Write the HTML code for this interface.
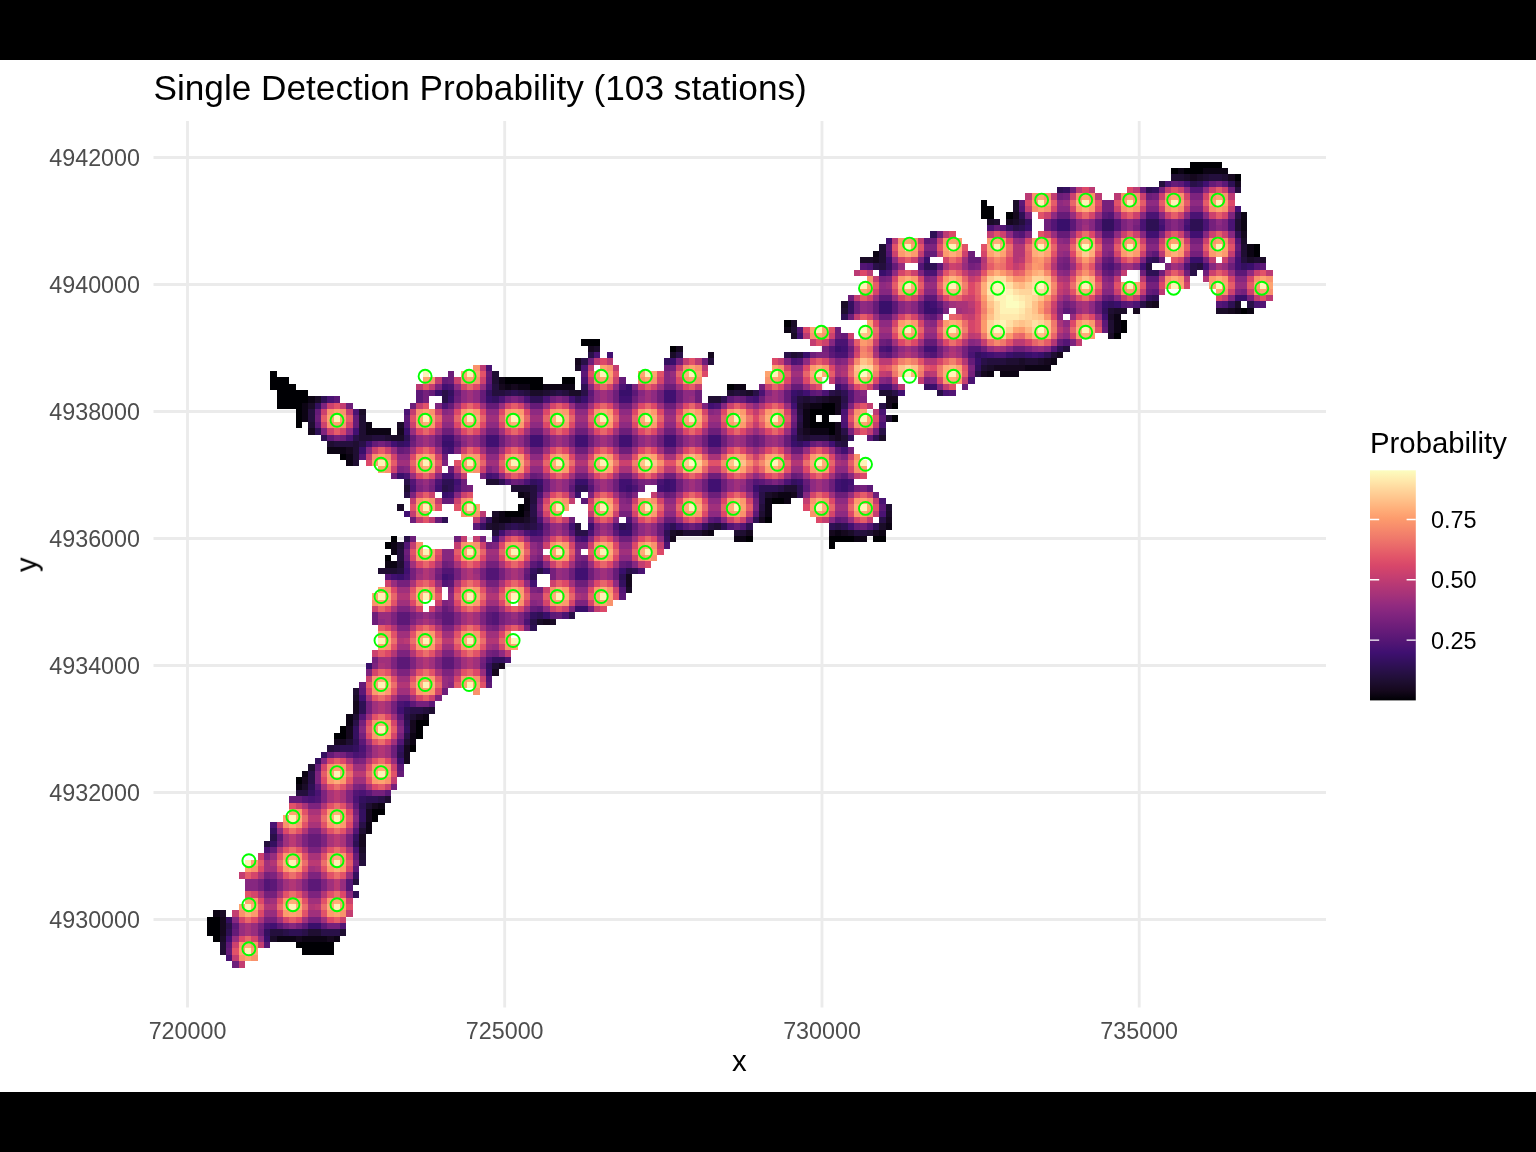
<!DOCTYPE html>
<html><head><meta charset="utf-8"><title>Single Detection Probability</title>
<style>
html,body{margin:0;padding:0;background:#fff;}
body{width:1536px;height:1152px;overflow:hidden;position:relative;font-family:"Liberation Sans",sans-serif;}
.bar{position:absolute;left:0;width:1536px;height:60px;background:#000;}
svg{position:absolute;left:0;top:0;}
text{font-family:"Liberation Sans",sans-serif;}
</style></head><body>
<div class="bar" style="top:0"></div><div class="bar" style="top:1092px"></div>
<svg width="1536" height="1152" viewBox="0 0 1536 1152">
<defs><linearGradient id="lg" x1="0" y1="0" x2="0" y2="1"><stop offset="0.000" stop-color="#fcfdbf"/><stop offset="0.042" stop-color="#ffeaad"/><stop offset="0.083" stop-color="#ffd69c"/><stop offset="0.125" stop-color="#ffc38b"/><stop offset="0.167" stop-color="#ffaf7a"/><stop offset="0.208" stop-color="#fd9c6d"/><stop offset="0.250" stop-color="#f78b6c"/><stop offset="0.292" stop-color="#f07a6b"/><stop offset="0.333" stop-color="#e9686a"/><stop offset="0.375" stop-color="#e25569"/><stop offset="0.417" stop-color="#d7466a"/><stop offset="0.458" stop-color="#c73f70"/><stop offset="0.500" stop-color="#b63875"/><stop offset="0.542" stop-color="#a5327a"/><stop offset="0.583" stop-color="#932b7f"/><stop offset="0.625" stop-color="#82257f"/><stop offset="0.667" stop-color="#721f7b"/><stop offset="0.708" stop-color="#621a78"/><stop offset="0.750" stop-color="#511574"/><stop offset="0.792" stop-color="#3f1071"/><stop offset="0.833" stop-color="#33105d"/><stop offset="0.875" stop-color="#281047"/><stop offset="0.917" stop-color="#1e0e31"/><stop offset="0.958" stop-color="#15081d"/><stop offset="1.000" stop-color="#000004"/></linearGradient></defs>
<g stroke="#ebebeb" stroke-width="2.85" fill="none"><path d="M187.5 121.0V1007.5"/><path d="M504.7 121.0V1007.5"/><path d="M822.0 121.0V1007.5"/><path d="M1139.2 121.0V1007.5"/><path d="M153.5 157.5H1326.0"/><path d="M153.5 284.5H1326.0"/><path d="M153.5 411.5H1326.0"/><path d="M153.5 538.5H1326.0"/><path d="M153.5 665.5H1326.0"/><path d="M153.5 792.5H1326.0"/><path d="M153.5 919.5H1326.0"/></g>
<g transform="translate(206.875 161.700) scale(6.345)" shape-rendering="crispEdges"><path fill="#000004" d="M155 0h5v1h-5zM152 1h1v1h-1zM154 1h3v1h-3zM162 2h1v1h-1zM122 6h1v1h-1zM122 7h2v1h-2zM122 8h2v1h-2zM126 8h1v1h-1zM165 13h1v1h-1zM165 14h1v1h-1zM163 23h1v1h-1zM91 25h1v1h-1zM144 25h1v1h-1zM144 26h1v1h-1zM143 27h1v1h-1zM59 28h3v1h-3zM73 29h1v1h-1zM10 33h1v1h-1zM10 34h3v1h-3zM47 34h6v1h-6zM56 34h2v1h-2zM10 35h4v1h-4zM51 35h2v1h-2zM82 35h1v1h-1zM11 36h5v1h-5zM11 37h5v1h-5zM11 38h4v1h-4zM97 38h2v1h-2zM108 38h1v1h-1zM14 39h1v1h-1zM95 39h4v1h-4zM14 40h1v1h-1zM95 40h1v1h-1zM97 40h1v1h-1zM108 40h1v1h-1zM14 41h1v1h-1zM95 41h4v1h-4zM98 42h1v1h-1zM21 46h1v1h-1zM89 53h2v1h-2zM49 54h1v1h-1zM47 55h3v1h-3zM88 56h1v1h-1zM29 59h1v1h-1zM85 59h1v1h-1zM98 59h4v1h-4zM105 59h2v1h-2zM28 60h1v1h-1zM98 60h1v1h-1zM28 62h1v1h-1zM33 88h2v1h-2zM21 89h1v1h-1zM33 89h1v1h-1zM20 90h2v1h-2zM33 90h1v1h-1zM32 92h1v1h-1zM14 97h1v1h-1zM26 102h2v1h-2zM26 103h1v1h-1zM0 119h2v1h-2zM0 120h2v1h-2zM0 121h2v1h-2zM1 122h1v1h-1zM14 123h6v1h-6zM15 124h5v1h-5z"/><path fill="#0c0414" d="M153 1h1v1h-1zM157 1h4v1h-4zM163 8h1v1h-1zM163 9h1v1h-1zM163 10h1v1h-1zM164 13h1v1h-1zM105 14h1v1h-1zM164 14h1v1h-1zM162 23h1v1h-1zM164 23h1v1h-1zM143 24h1v1h-1zM143 25h1v1h-1zM91 26h1v1h-1zM143 26h1v1h-1zM133 31h1v1h-1zM129 32h4v1h-4zM123 33h1v1h-1zM125 33h3v1h-3zM46 34h1v1h-1zM47 35h1v1h-1zM49 35h2v1h-2zM53 35h5v1h-5zM83 35h2v1h-2zM16 37h1v1h-1zM15 38h1v1h-1zM95 38h2v1h-2zM15 39h1v1h-1zM94 39h1v1h-1zM15 40h1v1h-1zM94 40h1v1h-1zM25 41h1v1h-1zM94 41h1v1h-1zM25 42h4v1h-4zM95 42h3v1h-3zM19 45h3v1h-3zM22 46h1v1h-1zM22 47h1v1h-1zM49 52h1v1h-1zM90 52h2v1h-2zM50 53h1v1h-1zM88 53h1v1h-1zM91 53h1v1h-1zM50 54h1v1h-1zM88 54h1v1h-1zM46 55h1v1h-1zM88 55h1v1h-1zM46 56h2v1h-2zM107 57h1v1h-1zM79 58h1v1h-1zM99 58h1v1h-1zM106 58h1v1h-1zM83 59h2v1h-2zM102 59h2v1h-2zM29 60h1v1h-1zM29 61h1v1h-1zM28 63h2v1h-2zM22 87h1v1h-1zM34 87h1v1h-1zM22 88h1v1h-1zM32 90h1v1h-1zM32 91h1v1h-1zM15 96h1v1h-1zM14 98h1v1h-1zM27 101h1v1h-1zM25 104h1v1h-1zM25 105h1v1h-1zM1 118h1v1h-1zM11 122h3v1h-3zM15 122h4v1h-4zM20 122h1v1h-1z"/><path fill="#15081e" d="M155 2h1v1h-1zM161 2h1v1h-1zM162 3h1v1h-1zM127 8h1v1h-1zM126 9h1v1h-1zM163 11h1v1h-1zM105 15h1v1h-1zM149 22h1v1h-1zM146 23h1v1h-1zM161 23h1v1h-1zM60 29h1v1h-1zM74 29h1v1h-1zM79 30h1v1h-1zM134 30h1v1h-1zM58 31h1v1h-1zM132 31h1v1h-1zM124 32h5v1h-5zM122 33h1v1h-1zM46 35h1v1h-1zM48 35h1v1h-1zM98 37h2v1h-2zM107 37h2v1h-2zM94 38h1v1h-1zM99 38h1v1h-1zM107 38h1v1h-1zM99 39h1v1h-1zM99 41h1v1h-1zM16 42h1v1h-1zM30 42h1v1h-1zM94 42h1v1h-1zM99 42h1v1h-1zM99 43h1v1h-1zM22 45h1v1h-1zM50 52h1v1h-1zM89 52h1v1h-1zM92 52h1v1h-1zM50 55h1v1h-1zM45 56h1v1h-1zM48 56h2v1h-2zM87 56h1v1h-1zM107 56h1v1h-1zM74 58h1v1h-1zM78 58h1v1h-1zM85 58h1v1h-1zM98 58h1v1h-1zM100 58h1v1h-1zM105 58h1v1h-1zM73 59h1v1h-1zM66 65h1v1h-1zM66 66h1v1h-1zM53 72h1v1h-1zM46 79h1v1h-1zM45 80h1v1h-1zM23 85h1v1h-1zM23 86h1v1h-1zM33 87h1v1h-1zM32 88h1v1h-1zM22 89h1v1h-1zM32 89h1v1h-1zM22 90h1v1h-1zM20 91h2v1h-2zM31 92h1v1h-1zM31 93h1v1h-1zM31 94h1v1h-1zM15 97h1v1h-1zM26 101h1v1h-1zM25 102h1v1h-1zM25 103h1v1h-1zM24 106h1v1h-1zM24 107h1v1h-1zM2 119h1v1h-1zM2 120h1v1h-1zM2 121h1v1h-1zM14 122h1v1h-1zM19 122h1v1h-1z"/><path fill="#1a0c28" d="M154 2h1v1h-1zM156 2h1v1h-1zM127 6h1v1h-1zM127 7h1v1h-1zM123 9h1v1h-1zM127 9h1v1h-1zM163 12h1v1h-1zM103 15h2v1h-2zM164 15h1v1h-1zM166 15h1v1h-1zM100 22h1v1h-1zM148 22h1v1h-1zM162 22h1v1h-1zM143 23h2v1h-2zM159 23h2v1h-2zM142 24h1v1h-1zM92 25h1v1h-1zM92 27h1v1h-1zM142 27h1v1h-1zM61 29h1v1h-1zM73 30h1v1h-1zM128 31h1v1h-1zM131 31h1v1h-1zM58 32h1v1h-1zM123 32h1v1h-1zM51 36h2v1h-2zM57 36h2v1h-2zM85 36h1v1h-1zM17 37h1v1h-1zM97 37h1v1h-1zM16 38h1v1h-1zM24 39h1v1h-1zM30 41h1v1h-1zM29 43h2v1h-2zM98 43h1v1h-1zM106 43h1v1h-1zM88 52h1v1h-1zM30 54h1v1h-1zM45 55h1v1h-1zM107 55h1v1h-1zM50 56h1v1h-1zM45 57h1v1h-1zM106 57h1v1h-1zM73 58h1v1h-1zM101 58h1v1h-1zM66 67h1v1h-1zM52 72h1v1h-1zM54 72h1v1h-1zM23 84h1v1h-1zM15 98h1v1h-1zM24 108h1v1h-1zM2 118h1v1h-1zM2 122h1v1h-1zM10 122h1v1h-1z"/><path fill="#1f0e32" d="M152 2h2v1h-2zM157 2h1v1h-1zM160 2h1v1h-1zM124 9h1v1h-1zM162 9h1v1h-1zM162 10h1v1h-1zM106 13h1v1h-1zM163 13h1v1h-1zM106 14h1v1h-1zM163 14h1v1h-1zM106 15h1v1h-1zM165 15h1v1h-1zM100 23h1v1h-1zM142 23h1v1h-1zM142 25h1v1h-1zM92 26h1v1h-1zM142 26h1v1h-1zM92 30h1v1h-1zM133 30h1v1h-1zM126 31h2v1h-2zM129 31h2v1h-2zM122 32h1v1h-1zM45 33h1v1h-1zM45 34h1v1h-1zM53 36h1v1h-1zM82 36h1v1h-1zM84 36h1v1h-1zM106 36h2v1h-2zM79 37h2v1h-2zM94 37h1v1h-1zM96 37h1v1h-1zM93 38h1v1h-1zM24 40h1v1h-1zM107 40h1v1h-1zM16 41h1v1h-1zM24 41h1v1h-1zM24 42h1v1h-1zM93 42h1v1h-1zM24 43h2v1h-2zM28 43h1v1h-1zM94 43h1v1h-1zM100 43h1v1h-1zM19 44h1v1h-1zM23 44h1v1h-1zM23 45h1v1h-1zM23 46h1v1h-1zM23 47h1v1h-1zM44 50h2v1h-2zM31 51h1v1h-1zM48 51h3v1h-3zM91 51h2v1h-2zM107 54h1v1h-1zM87 55h1v1h-1zM44 57h1v1h-1zM46 57h1v1h-1zM80 57h1v1h-1zM75 58h3v1h-3zM83 58h2v1h-2zM104 58h1v1h-1zM30 60h1v1h-1zM30 63h1v1h-1zM27 64h3v1h-3zM45 79h1v1h-1zM23 83h1v1h-1zM35 86h1v1h-1zM23 87h1v1h-1zM32 87h1v1h-1zM22 91h1v1h-1zM31 91h1v1h-1zM16 95h1v1h-1zM28 100h1v1h-1zM25 101h1v1h-1zM24 105h1v1h-1zM24 109h1v1h-1zM16 121h2v1h-2zM21 121h1v1h-1zM2 123h1v1h-1zM2 124h1v1h-1z"/><path fill="#240f3d" d="M158 2h2v1h-2zM150 3h1v1h-1zM162 4h1v1h-1zM128 9h1v1h-1zM163 15h1v1h-1zM106 16h1v1h-1zM148 16h1v1h-1zM156 16h1v1h-1zM135 29h1v1h-1zM93 30h1v1h-1zM79 31h1v1h-1zM123 31h3v1h-3zM45 35h1v1h-1zM45 36h2v1h-2zM50 36h1v1h-1zM54 36h1v1h-1zM56 36h1v1h-1zM83 36h1v1h-1zM99 36h1v1h-1zM93 37h1v1h-1zM95 37h1v1h-1zM16 39h1v1h-1zM93 39h1v1h-1zM16 40h1v1h-1zM93 41h1v1h-1zM26 43h2v1h-2zM93 43h1v1h-1zM95 43h3v1h-3zM20 44h3v1h-3zM100 44h1v1h-1zM51 51h1v1h-1zM51 52h1v1h-1zM51 53h1v1h-1zM87 54h1v1h-1zM51 56h1v1h-1zM50 57h1v1h-1zM58 57h1v1h-1zM79 57h1v1h-1zM45 58h1v1h-1zM102 58h2v1h-2zM30 61h1v1h-1zM30 62h1v1h-1zM30 64h1v1h-1zM34 86h1v1h-1zM19 92h1v1h-1zM14 99h2v1h-2zM9 107h1v1h-1zM24 110h1v1h-1zM23 113h1v1h-1zM10 121h2v1h-2z"/><path fill="#291048" d="M155 3h1v1h-1zM162 8h1v1h-1zM127 10h1v1h-1zM105 16h1v1h-1zM155 16h1v1h-1zM155 17h1v1h-1zM147 22h1v1h-1zM164 22h1v1h-1zM60 30h1v1h-1zM74 30h1v1h-1zM91 30h1v1h-1zM59 31h1v1h-1zM122 31h1v1h-1zM121 33h1v1h-1zM37 36h1v1h-1zM47 36h1v1h-1zM49 36h1v1h-1zM55 36h1v1h-1zM59 36h1v1h-1zM86 36h1v1h-1zM98 36h1v1h-1zM108 36h1v1h-1zM115 36h1v1h-1zM37 37h1v1h-1zM100 37h1v1h-1zM106 38h1v1h-1zM93 40h1v1h-1zM100 42h1v1h-1zM106 42h1v1h-1zM23 43h1v1h-1zM24 44h1v1h-1zM99 44h1v1h-1zM31 50h1v1h-1zM37 51h1v1h-1zM90 51h1v1h-1zM31 52h1v1h-1zM87 52h1v1h-1zM87 53h1v1h-1zM51 54h1v1h-1zM51 55h1v1h-1zM106 56h1v1h-1zM47 57h1v1h-1zM49 57h1v1h-1zM51 57h1v1h-1zM99 57h1v1h-1zM58 58h2v1h-2zM31 59h1v1h-1zM52 64h1v1h-1zM66 64h1v1h-1zM57 71h1v1h-1zM51 72h1v1h-1zM32 86h2v1h-2zM31 87h1v1h-1zM23 88h1v1h-1zM31 90h1v1h-1zM20 92h1v1h-1zM16 96h1v1h-1zM16 97h1v1h-1zM27 100h1v1h-1zM24 104h1v1h-1zM10 106h1v1h-1zM3 120h1v1h-1zM12 121h1v1h-1zM15 121h1v1h-1zM18 121h3v1h-3z"/><path fill="#2e1054" d="M156 3h1v1h-1zM161 3h1v1h-1zM134 4h1v1h-1zM148 4h1v1h-1zM128 8h1v1h-1zM148 9h2v1h-2zM155 9h2v1h-2zM128 10h1v1h-1zM148 10h2v1h-2zM155 10h2v1h-2zM114 11h1v1h-1zM162 11h1v1h-1zM149 15h1v1h-1zM113 16h2v1h-2zM148 17h2v1h-2zM149 21h1v1h-1zM161 22h1v1h-1zM100 24h1v1h-1zM134 29h1v1h-1zM132 30h1v1h-1zM59 35h1v1h-1zM48 36h1v1h-1zM100 36h1v1h-1zM18 37h1v1h-1zM51 37h2v1h-2zM58 37h1v1h-1zM81 37h1v1h-1zM100 38h1v1h-1zM17 42h1v1h-1zM18 43h1v1h-1zM31 43h1v1h-1zM105 43h1v1h-1zM37 50h2v1h-2zM46 50h1v1h-1zM38 51h1v1h-1zM58 51h2v1h-2zM87 51h3v1h-3zM93 51h1v1h-1zM93 52h1v1h-1zM37 56h1v1h-1zM44 56h1v1h-1zM86 56h1v1h-1zM48 57h1v1h-1zM65 57h1v1h-1zM73 57h1v1h-1zM81 57h1v1h-1zM85 57h1v1h-1zM98 57h1v1h-1zM100 57h1v1h-1zM105 57h1v1h-1zM72 58h1v1h-1zM67 64h1v1h-1zM51 65h1v1h-1zM65 65h1v1h-1zM52 71h1v1h-1zM51 73h1v1h-1zM24 85h1v1h-1zM24 86h1v1h-1zM31 86h1v1h-1zM31 88h1v1h-1zM23 91h1v1h-1zM21 92h2v1h-2zM30 93h1v1h-1zM16 98h1v1h-1zM25 100h2v1h-2zM24 101h1v1h-1zM23 107h1v1h-1zM23 115h1v1h-1zM3 121h1v1h-1zM13 121h2v1h-2z"/><path fill="#34105f" d="M135 4h1v1h-1zM149 4h1v1h-1zM129 9h1v1h-1zM141 9h2v1h-2zM126 10h1v1h-1zM141 10h2v1h-2zM148 15h1v1h-1zM107 16h1v1h-1zM163 16h1v1h-1zM148 21h1v1h-1zM101 22h1v1h-1zM142 22h1v1h-1zM101 23h1v1h-1zM141 23h1v1h-1zM121 30h1v1h-1zM127 30h2v1h-2zM72 31h1v1h-1zM121 32h1v1h-1zM113 35h1v1h-1zM38 36h1v1h-1zM44 36h1v1h-1zM93 36h1v1h-1zM45 37h1v1h-1zM92 37h1v1h-1zM17 38h1v1h-1zM92 43h1v1h-1zM101 43h1v1h-1zM30 44h1v1h-1zM93 44h1v1h-1zM51 50h1v1h-1zM92 50h1v1h-1zM52 51h1v1h-1zM43 57h1v1h-1zM52 57h1v1h-1zM66 57h1v1h-1zM78 57h1v1h-1zM72 59h1v1h-1zM51 64h1v1h-1zM65 66h1v1h-1zM51 71h1v1h-1zM45 78h2v1h-2zM44 79h1v1h-1zM23 89h1v1h-1zM31 89h1v1h-1zM23 90h1v1h-1zM23 92h1v1h-1zM30 92h1v1h-1zM18 93h1v1h-1zM17 94h1v1h-1zM16 99h1v1h-1zM24 100h1v1h-1zM24 102h1v1h-1zM24 103h1v1h-1zM10 105h1v1h-1zM23 106h1v1h-1zM10 107h1v1h-1zM23 112h1v1h-1zM3 119h1v1h-1zM9 121h1v1h-1z"/><path fill="#390f6b" d="M134 9h2v1h-2zM129 10h1v1h-1zM134 10h2v1h-2zM107 15h1v1h-1zM113 15h1v1h-1zM155 15h2v1h-2zM164 16h1v1h-1zM106 17h1v1h-1zM162 21h2v1h-2zM106 22h2v1h-2zM113 22h1v1h-1zM141 22h1v1h-1zM143 22h1v1h-1zM106 23h2v1h-2zM113 23h2v1h-2zM99 29h1v1h-1zM94 30h1v1h-1zM122 30h1v1h-1zM126 30h1v1h-1zM129 30h1v1h-1zM131 30h1v1h-1zM73 31h1v1h-1zM121 31h1v1h-1zM66 35h1v1h-1zM99 35h1v1h-1zM114 35h1v1h-1zM36 36h1v1h-1zM65 36h2v1h-2zM92 36h1v1h-1zM38 37h1v1h-1zM44 37h1v1h-1zM59 37h1v1h-1zM31 42h1v1h-1zM31 44h1v1h-1zM37 44h2v1h-2zM92 44h1v1h-1zM24 45h1v1h-1zM30 49h1v1h-1zM52 50h1v1h-1zM58 50h2v1h-2zM72 50h1v1h-1zM93 50h1v1h-1zM100 50h1v1h-1zM66 51h1v1h-1zM72 51h1v1h-1zM86 51h1v1h-1zM100 51h1v1h-1zM37 52h1v1h-1zM58 52h1v1h-1zM60 57h1v1h-1zM72 57h1v1h-1zM51 58h1v1h-1zM65 58h2v1h-2zM53 64h1v1h-1zM65 64h1v1h-1zM30 65h1v1h-1zM58 70h2v1h-2zM53 71h1v1h-1zM25 79h1v1h-1zM44 80h1v1h-1zM30 94h1v1h-1zM16 120h2v1h-2zM9 122h1v1h-1z"/><path fill="#411071" d="M154 3h1v1h-1zM157 3h1v1h-1zM162 7h1v1h-1zM150 10h1v1h-1zM154 10h1v1h-1zM148 11h2v1h-2zM155 11h2v1h-2zM107 12h1v1h-1zM162 15h1v1h-1zM147 16h1v1h-1zM157 16h1v1h-1zM162 16h1v1h-1zM114 22h1v1h-1zM141 24h1v1h-1zM93 27h1v1h-1zM100 29h1v1h-1zM107 29h1v1h-1zM113 29h2v1h-2zM63 30h1v1h-1zM123 30h1v1h-1zM130 30h1v1h-1zM37 35h1v1h-1zM106 35h2v1h-2zM72 36h2v1h-2zM94 36h1v1h-1zM109 36h1v1h-1zM57 37h1v1h-1zM65 37h2v1h-2zM72 37h2v1h-2zM86 37h1v1h-1zM79 38h1v1h-1zM92 38h1v1h-1zM23 42h1v1h-1zM37 43h2v1h-2zM44 43h2v1h-2zM51 43h2v1h-2zM58 43h2v1h-2zM65 43h2v1h-2zM72 43h2v1h-2zM79 43h2v1h-2zM25 44h1v1h-1zM29 44h1v1h-1zM44 44h2v1h-2zM51 44h2v1h-2zM58 44h2v1h-2zM65 44h2v1h-2zM72 44h2v1h-2zM79 44h2v1h-2zM94 44h1v1h-1zM98 44h1v1h-1zM38 45h1v1h-1zM100 45h1v1h-1zM37 49h2v1h-2zM44 49h1v1h-1zM39 50h1v1h-1zM65 50h2v1h-2zM73 50h1v1h-1zM79 50h2v1h-2zM99 50h1v1h-1zM101 50h1v1h-1zM36 51h1v1h-1zM65 51h1v1h-1zM71 51h1v1h-1zM73 51h1v1h-1zM79 51h2v1h-2zM99 51h1v1h-1zM38 52h1v1h-1zM31 55h1v1h-1zM57 57h1v1h-1zM74 57h1v1h-1zM101 57h1v1h-1zM46 58h1v1h-1zM52 58h1v1h-1zM45 59h1v1h-1zM59 59h1v1h-1zM31 64h1v1h-1zM58 64h2v1h-2zM29 65h1v1h-1zM37 65h1v1h-1zM58 65h2v1h-2zM51 66h1v1h-1zM24 84h1v1h-1zM31 85h1v1h-1zM30 86h1v1h-1zM10 120h1v1h-1zM3 122h1v1h-1z"/><path fill="#4a1373" d="M151 3h1v1h-1zM148 8h2v1h-2zM155 8h2v1h-2zM147 9h1v1h-1zM150 9h1v1h-1zM154 9h1v1h-1zM157 9h1v1h-1zM161 9h1v1h-1zM123 10h1v1h-1zM147 10h1v1h-1zM157 10h1v1h-1zM161 10h1v1h-1zM104 16h1v1h-1zM142 16h1v1h-1zM154 16h1v1h-1zM107 17h1v1h-1zM113 17h2v1h-2zM146 22h1v1h-1zM160 22h1v1h-1zM165 22h1v1h-1zM115 23h1v1h-1zM99 28h2v1h-2zM106 29h1v1h-1zM61 30h1v1h-1zM99 30h2v1h-2zM120 30h1v1h-1zM124 30h2v1h-2zM92 31h1v1h-1zM44 32h1v1h-1zM59 32h1v1h-1zM59 34h1v1h-1zM120 34h1v1h-1zM38 35h1v1h-1zM44 35h1v1h-1zM65 35h1v1h-1zM87 36h1v1h-1zM97 36h1v1h-1zM116 36h1v1h-1zM19 37h1v1h-1zM46 37h1v1h-1zM50 37h1v1h-1zM53 37h1v1h-1zM85 37h1v1h-1zM37 38h1v1h-1zM80 38h1v1h-1zM23 39h1v1h-1zM31 39h1v1h-1zM100 39h1v1h-1zM106 39h1v1h-1zM100 41h1v1h-1zM106 41h1v1h-1zM92 42h1v1h-1zM22 43h1v1h-1zM37 45h1v1h-1zM31 49h1v1h-1zM45 49h1v1h-1zM36 50h1v1h-1zM50 50h1v1h-1zM71 50h1v1h-1zM91 50h1v1h-1zM32 51h1v1h-1zM39 51h1v1h-1zM67 51h1v1h-1zM101 51h1v1h-1zM52 52h1v1h-1zM106 53h1v1h-1zM106 55h1v1h-1zM52 56h1v1h-1zM66 56h1v1h-1zM64 57h1v1h-1zM50 58h1v1h-1zM60 58h1v1h-1zM58 59h1v1h-1zM72 60h1v1h-1zM31 63h1v1h-1zM52 63h1v1h-1zM68 64h1v1h-1zM31 65h1v1h-1zM38 65h1v1h-1zM56 71h1v1h-1zM50 72h1v1h-1zM44 78h1v1h-1zM47 78h1v1h-1zM30 85h1v1h-1zM24 92h1v1h-1zM23 93h1v1h-1zM17 99h1v1h-1zM24 99h1v1h-1zM16 100h1v1h-1zM23 100h1v1h-1zM10 104h1v1h-1zM9 108h1v1h-1zM23 108h1v1h-1zM9 120h1v1h-1zM3 125h1v1h-1z"/><path fill="#531575" d="M155 4h2v1h-2zM128 7h1v1h-1zM142 8h1v1h-1zM133 9h1v1h-1zM143 9h1v1h-1zM125 10h1v1h-1zM133 10h1v1h-1zM143 10h1v1h-1zM128 11h1v1h-1zM141 11h2v1h-2zM162 12h1v1h-1zM107 14h1v1h-1zM162 14h1v1h-1zM103 16h1v1h-1zM112 16h1v1h-1zM141 16h1v1h-1zM165 16h1v1h-1zM144 22h1v1h-1zM159 22h1v1h-1zM166 22h1v1h-1zM93 26h1v1h-1zM135 28h1v1h-1zM98 29h1v1h-1zM120 29h2v1h-2zM133 29h1v1h-1zM114 30h1v1h-1zM93 31h1v1h-1zM100 35h1v1h-1zM101 36h1v1h-1zM117 36h1v1h-1zM101 37h1v1h-1zM100 40h1v1h-1zM31 41h1v1h-1zM24 46h1v1h-1zM32 50h1v1h-1zM47 50h1v1h-1zM86 50h1v1h-1zM60 51h1v1h-1zM86 52h1v1h-1zM80 56h1v1h-1zM82 57h1v1h-1zM84 57h1v1h-1zM104 57h1v1h-1zM57 58h1v1h-1zM31 60h1v1h-1zM37 64h2v1h-2zM44 64h2v1h-2zM28 65h1v1h-1zM44 65h2v1h-2zM37 66h1v1h-1zM65 67h1v1h-1zM45 71h1v1h-1zM45 72h1v1h-1zM44 81h1v1h-1zM24 87h1v1h-1zM30 91h1v1h-1zM24 93h1v1h-1zM23 99h1v1h-1zM15 100h1v1h-1zM17 100h1v1h-1zM23 105h1v1h-1zM9 113h1v1h-1zM22 113h1v1h-1zM9 114h1v1h-1zM22 114h1v1h-1zM21 120h1v1h-1zM9 123h1v1h-1z"/><path fill="#5c1877" d="M153 3h1v1h-1zM160 3h1v1h-1zM128 6h1v1h-1zM141 8h1v1h-1zM136 9h1v1h-1zM140 9h1v1h-1zM136 10h1v1h-1zM140 10h1v1h-1zM127 11h1v1h-1zM113 12h1v1h-1zM107 13h1v1h-1zM149 14h1v1h-1zM142 15h1v1h-1zM115 16h1v1h-1zM166 16h1v1h-1zM142 17h1v1h-1zM162 17h2v1h-2zM148 18h2v1h-2zM149 20h1v1h-1zM106 21h2v1h-2zM113 21h2v1h-2zM142 21h1v1h-1zM108 22h1v1h-1zM112 22h1v1h-1zM115 22h1v1h-1zM145 22h1v1h-1zM108 23h1v1h-1zM112 23h1v1h-1zM135 23h1v1h-1zM114 24h1v1h-1zM141 25h1v1h-1zM98 30h1v1h-1zM107 30h1v1h-1zM113 30h1v1h-1zM59 33h1v1h-1zM44 34h1v1h-1zM33 36h1v1h-1zM60 36h1v1h-1zM67 36h1v1h-1zM95 36h1v1h-1zM20 37h1v1h-1zM33 37h1v1h-1zM82 37h1v1h-1zM31 40h1v1h-1zM106 40h1v1h-1zM17 41h1v1h-1zM19 43h1v1h-1zM104 43h1v1h-1zM39 44h1v1h-1zM99 45h1v1h-1zM100 49h1v1h-1zM67 50h1v1h-1zM87 50h1v1h-1zM57 51h1v1h-1zM94 51h1v1h-1zM104 51h1v1h-1zM66 52h1v1h-1zM59 53h1v1h-1zM106 54h1v1h-1zM86 55h1v1h-1zM79 56h1v1h-1zM99 56h1v1h-1zM42 57h1v1h-1zM75 57h1v1h-1zM77 57h1v1h-1zM64 58h1v1h-1zM51 63h1v1h-1zM59 63h1v1h-1zM66 63h1v1h-1zM50 65h1v1h-1zM38 66h1v1h-1zM65 68h1v1h-1zM52 70h1v1h-1zM30 71h2v1h-2zM37 71h2v1h-2zM44 71h1v1h-1zM50 71h1v1h-1zM54 71h1v1h-1zM30 72h2v1h-2zM37 72h2v1h-2zM44 72h1v1h-1zM30 78h2v1h-2zM37 78h2v1h-2zM30 79h2v1h-2zM37 79h2v1h-2zM44 82h1v1h-1zM24 83h1v1h-1zM32 85h1v1h-1zM35 85h1v1h-1zM30 87h1v1h-1zM24 91h1v1h-1zM22 93h1v1h-1zM30 95h1v1h-1zM17 98h1v1h-1zM25 99h1v1h-1zM28 99h1v1h-1zM23 101h1v1h-1zM11 106h1v1h-1zM23 111h1v1h-1zM10 113h1v1h-1zM16 113h2v1h-2zM10 114h1v1h-1zM16 114h2v1h-2zM4 120h1v1h-1zM11 120h1v1h-1zM15 120h1v1h-1zM18 120h1v1h-1zM3 123h1v1h-1z"/><path fill="#651b78" d="M152 3h1v1h-1zM158 3h1v1h-1zM147 4h1v1h-1zM134 8h2v1h-2zM124 10h1v1h-1zM134 11h2v1h-2zM114 12h1v1h-1zM162 13h1v1h-1zM113 14h2v1h-2zM120 15h2v1h-2zM141 15h1v1h-1zM150 15h1v1h-1zM108 16h1v1h-1zM143 16h1v1h-1zM141 17h1v1h-1zM148 20h1v1h-1zM141 21h1v1h-1zM105 22h1v1h-1zM140 22h1v1h-1zM105 23h1v1h-1zM140 23h1v1h-1zM106 24h2v1h-2zM113 24h1v1h-1zM141 26h1v1h-1zM100 27h1v1h-1zM107 28h1v1h-1zM113 28h2v1h-2zM134 28h1v1h-1zM106 30h1v1h-1zM120 31h1v1h-1zM44 33h1v1h-1zM37 34h1v1h-1zM65 34h1v1h-1zM92 35h2v1h-2zM119 35h1v1h-1zM35 36h1v1h-1zM39 36h1v1h-1zM43 36h1v1h-1zM91 36h1v1h-1zM96 36h1v1h-1zM43 37h1v1h-1zM60 37h1v1h-1zM84 37h1v1h-1zM91 37h1v1h-1zM38 38h1v1h-1zM44 38h2v1h-2zM51 38h2v1h-2zM58 38h2v1h-2zM17 39h1v1h-1zM92 39h1v1h-1zM23 40h1v1h-1zM23 41h1v1h-1zM92 41h1v1h-1zM32 43h1v1h-1zM86 43h1v1h-1zM91 43h1v1h-1zM26 44h1v1h-1zM28 44h1v1h-1zM86 44h1v1h-1zM91 44h1v1h-1zM95 44h1v1h-1zM97 44h1v1h-1zM30 45h1v1h-1zM92 45h2v1h-2zM38 48h1v1h-1zM51 49h1v1h-1zM92 49h1v1h-1zM49 50h1v1h-1zM53 50h1v1h-1zM60 50h1v1h-1zM94 50h1v1h-1zM53 51h1v1h-1zM72 52h1v1h-1zM37 53h2v1h-2zM36 56h1v1h-1zM72 56h2v1h-2zM100 56h1v1h-1zM53 57h1v1h-1zM67 57h1v1h-1zM71 57h1v1h-1zM83 57h1v1h-1zM102 57h1v1h-1zM71 58h1v1h-1zM51 59h2v1h-2zM31 62h1v1h-1zM58 63h1v1h-1zM65 63h1v1h-1zM50 64h1v1h-1zM64 64h1v1h-1zM64 65h1v1h-1zM37 70h1v1h-1zM51 70h1v1h-1zM55 71h1v1h-1zM24 82h1v1h-1zM19 93h1v1h-1zM17 95h1v1h-1zM30 96h1v1h-1zM13 100h2v1h-2zM16 106h2v1h-2zM16 107h2v1h-2zM10 108h1v1h-1zM23 109h1v1h-1zM4 121h1v1h-1zM3 124h1v1h-1z"/><path fill="#6d1e7a" d="M136 4h1v1h-1zM161 4h1v1h-1zM134 5h1v1h-1zM148 5h1v1h-1zM132 9h1v1h-1zM132 10h1v1h-1zM115 11h1v1h-1zM120 14h1v1h-1zM148 14h1v1h-1zM135 16h1v1h-1zM161 16h1v1h-1zM147 17h1v1h-1zM150 17h1v1h-1zM154 17h1v1h-1zM157 17h1v1h-1zM101 21h1v1h-1zM102 22h1v1h-1zM135 22h1v1h-1zM102 23h1v1h-1zM136 23h1v1h-1zM101 24h1v1h-1zM99 26h1v1h-1zM99 27h1v1h-1zM106 28h1v1h-1zM101 29h1v1h-1zM108 29h1v1h-1zM112 29h1v1h-1zM115 29h1v1h-1zM122 29h1v1h-1zM127 29h2v1h-2zM95 30h1v1h-1zM60 31h1v1h-1zM78 31h1v1h-1zM72 32h1v1h-1zM38 33h1v1h-1zM38 34h1v1h-1zM72 35h2v1h-2zM64 36h1v1h-1zM71 36h1v1h-1zM74 36h1v1h-1zM77 36h1v1h-1zM39 37h1v1h-1zM47 37h1v1h-1zM49 37h1v1h-1zM54 37h1v1h-1zM56 37h1v1h-1zM64 37h1v1h-1zM67 37h1v1h-1zM71 37h1v1h-1zM74 37h1v1h-1zM77 37h1v1h-1zM83 37h1v1h-1zM87 37h1v1h-1zM22 38h1v1h-1zM32 38h1v1h-1zM65 38h2v1h-2zM72 38h2v1h-2zM17 40h1v1h-1zM37 42h2v1h-2zM44 42h2v1h-2zM51 42h2v1h-2zM58 42h2v1h-2zM65 42h2v1h-2zM72 42h2v1h-2zM79 42h2v1h-2zM21 43h1v1h-1zM36 43h1v1h-1zM39 43h1v1h-1zM43 43h1v1h-1zM46 43h1v1h-1zM50 43h1v1h-1zM53 43h1v1h-1zM57 43h1v1h-1zM60 43h1v1h-1zM64 43h1v1h-1zM67 43h1v1h-1zM71 43h1v1h-1zM74 43h1v1h-1zM78 43h1v1h-1zM81 43h1v1h-1zM32 44h1v1h-1zM36 44h1v1h-1zM43 44h1v1h-1zM46 44h1v1h-1zM50 44h1v1h-1zM53 44h1v1h-1zM57 44h1v1h-1zM60 44h1v1h-1zM64 44h1v1h-1zM67 44h1v1h-1zM71 44h1v1h-1zM74 44h1v1h-1zM78 44h1v1h-1zM81 44h1v1h-1zM31 45h1v1h-1zM44 45h2v1h-2zM51 45h2v1h-2zM58 45h2v1h-2zM65 45h2v1h-2zM72 45h2v1h-2zM79 45h2v1h-2zM37 46h1v1h-1zM29 49h1v1h-1zM52 49h1v1h-1zM58 49h2v1h-2zM65 49h2v1h-2zM72 49h2v1h-2zM79 49h2v1h-2zM93 49h1v1h-1zM99 49h1v1h-1zM40 50h1v1h-1zM48 50h1v1h-1zM57 50h1v1h-1zM64 50h1v1h-1zM74 50h1v1h-1zM78 50h1v1h-1zM81 50h1v1h-1zM85 50h1v1h-1zM88 50h1v1h-1zM90 50h1v1h-1zM98 50h1v1h-1zM40 51h1v1h-1zM64 51h1v1h-1zM68 51h1v1h-1zM74 51h1v1h-1zM78 51h1v1h-1zM81 51h1v1h-1zM85 51h1v1h-1zM98 51h1v1h-1zM102 51h1v1h-1zM65 52h1v1h-1zM73 52h1v1h-1zM79 52h2v1h-2zM99 52h2v1h-2zM105 52h1v1h-1zM52 53h1v1h-1zM86 53h1v1h-1zM52 55h1v1h-1zM32 56h1v1h-1zM43 56h1v1h-1zM57 56h1v1h-1zM76 57h1v1h-1zM103 57h1v1h-1zM47 58h1v1h-1zM49 58h1v1h-1zM53 58h1v1h-1zM67 58h1v1h-1zM32 59h1v1h-1zM39 59h1v1h-1zM65 59h2v1h-2zM31 61h1v1h-1zM37 63h1v1h-1zM57 64h1v1h-1zM60 64h1v1h-1zM36 65h1v1h-1zM57 65h1v1h-1zM60 65h1v1h-1zM58 66h2v1h-2zM26 71h1v1h-1zM36 71h1v1h-1zM26 72h1v1h-1zM45 77h1v1h-1zM43 79h1v1h-1zM37 83h1v1h-1zM29 92h1v1h-1zM29 93h1v1h-1zM11 107h1v1h-1zM8 121h1v1h-1zM4 126h1v1h-1z"/><path fill="#75207c" d="M159 3h1v1h-1zM150 4h1v1h-1zM135 5h1v1h-1zM149 5h1v1h-1zM141 6h2v1h-2zM141 7h2v1h-2zM129 8h1v1h-1zM151 9h1v1h-1zM153 9h1v1h-1zM158 9h1v1h-1zM146 10h1v1h-1zM151 10h1v1h-1zM153 10h1v1h-1zM158 10h1v1h-1zM148 12h2v1h-2zM155 12h2v1h-2zM155 14h2v1h-2zM135 15h1v1h-1zM157 15h1v1h-1zM120 16h1v1h-1zM134 16h1v1h-1zM106 18h1v1h-1zM148 19h2v1h-2zM163 20h1v1h-1zM147 21h1v1h-1zM164 21h1v1h-1zM97 29h1v1h-1zM119 29h1v1h-1zM115 30h1v1h-1zM119 30h1v1h-1zM74 31h1v1h-1zM73 32h1v1h-1zM120 33h1v1h-1zM99 34h1v1h-1zM113 34h1v1h-1zM87 35h1v1h-1zM108 35h1v1h-1zM34 36h1v1h-1zM34 37h1v1h-1zM92 40h1v1h-1zM101 42h1v1h-1zM105 42h1v1h-1zM20 43h1v1h-1zM85 43h1v1h-1zM87 43h1v1h-1zM27 44h1v1h-1zM85 44h1v1h-1zM87 44h1v1h-1zM96 44h1v1h-1zM101 45h1v1h-1zM43 49h1v1h-1zM68 50h1v1h-1zM70 50h1v1h-1zM35 51h1v1h-1zM41 51h1v1h-1zM103 51h1v1h-1zM86 54h1v1h-1zM65 55h2v1h-2zM60 56h1v1h-1zM43 59h1v1h-1zM44 60h1v1h-1zM58 60h2v1h-2zM52 62h1v1h-1zM59 62h1v1h-1zM38 63h1v1h-1zM44 63h2v1h-2zM32 64h1v1h-1zM36 64h1v1h-1zM39 64h1v1h-1zM43 64h1v1h-1zM46 64h1v1h-1zM54 64h1v1h-1zM32 65h1v1h-1zM39 65h1v1h-1zM43 65h1v1h-1zM46 65h1v1h-1zM54 65h1v1h-1zM30 66h2v1h-2zM44 66h2v1h-2zM52 67h1v1h-1zM38 70h1v1h-1zM44 70h2v1h-2zM60 70h1v1h-1zM32 71h1v1h-1zM46 71h1v1h-1zM46 72h1v1h-1zM45 73h1v1h-1zM50 73h1v1h-1zM44 77h1v1h-1zM26 78h1v1h-1zM43 78h1v1h-1zM30 84h2v1h-2zM25 85h1v1h-1zM29 85h1v1h-1zM33 85h2v1h-2zM25 86h1v1h-1zM29 86h1v1h-1zM24 88h1v1h-1zM30 88h1v1h-1zM24 90h1v1h-1zM30 90h1v1h-1zM25 92h1v1h-1zM21 93h1v1h-1zM23 94h1v1h-1zM24 98h1v1h-1zM29 98h1v1h-1zM26 99h2v1h-2zM23 102h1v1h-1zM23 104h1v1h-1zM22 106h1v1h-1zM22 107h1v1h-1zM23 110h1v1h-1zM9 112h1v1h-1zM8 113h1v1h-1zM8 114h1v1h-1zM9 115h2v1h-2zM9 119h2v1h-2zM16 119h2v1h-2zM8 120h1v1h-1zM12 120h1v1h-1zM14 120h1v1h-1zM19 120h2v1h-2z"/><path fill="#7d237e" d="M155 5h2v1h-2zM148 7h2v1h-2zM155 7h2v1h-2zM161 8h1v1h-1zM144 9h1v1h-1zM146 9h1v1h-1zM160 9h1v1h-1zM144 10h1v1h-1zM160 10h1v1h-1zM129 11h1v1h-1zM150 11h1v1h-1zM154 11h1v1h-1zM141 12h2v1h-2zM113 13h2v1h-2zM142 14h1v1h-1zM112 15h1v1h-1zM134 15h1v1h-1zM147 15h1v1h-1zM154 15h1v1h-1zM121 16h1v1h-1zM151 16h1v1h-1zM112 17h1v1h-1zM143 17h1v1h-1zM107 18h1v1h-1zM113 18h1v1h-1zM142 18h1v1h-1zM162 20h1v1h-1zM161 21h1v1h-1zM136 22h1v1h-1zM116 23h1v1h-1zM134 23h1v1h-1zM136 28h1v1h-1zM129 29h1v1h-1zM96 30h2v1h-2zM101 30h1v1h-1zM108 30h1v1h-1zM112 30h1v1h-1zM91 31h1v1h-1zM99 31h1v1h-1zM120 32h1v1h-1zM107 34h1v1h-1zM114 34h1v1h-1zM36 35h1v1h-1zM67 35h1v1h-1zM115 35h1v1h-1zM102 36h1v1h-1zM48 37h1v1h-1zM55 37h1v1h-1zM102 37h2v1h-2zM18 38h1v1h-1zM36 38h1v1h-1zM78 38h1v1h-1zM101 38h1v1h-1zM18 42h1v1h-1zM39 45h1v1h-1zM100 46h1v1h-1zM37 47h1v1h-1zM30 48h1v1h-1zM44 48h1v1h-1zM39 49h1v1h-1zM35 50h1v1h-1zM69 50h1v1h-1zM89 50h1v1h-1zM33 51h1v1h-1zM32 52h1v1h-1zM60 52h1v1h-1zM67 52h1v1h-1zM66 53h1v1h-1zM52 54h1v1h-1zM85 56h1v1h-1zM56 57h1v1h-1zM61 57h1v1h-1zM48 58h1v1h-1zM45 60h1v1h-1zM52 60h1v1h-1zM58 62h1v1h-1zM38 67h1v1h-1zM51 67h1v1h-1zM37 69h1v1h-1zM58 69h2v1h-2zM30 70h2v1h-2zM57 70h1v1h-1zM29 71h1v1h-1zM39 71h1v1h-1zM43 71h1v1h-1zM49 71h1v1h-1zM29 72h1v1h-1zM32 72h1v1h-1zM36 72h1v1h-1zM39 72h1v1h-1zM43 72h1v1h-1zM49 72h1v1h-1zM30 73h2v1h-2zM37 73h2v1h-2zM44 73h1v1h-1zM30 77h2v1h-2zM37 77h2v1h-2zM29 78h1v1h-1zM32 78h1v1h-1zM36 78h1v1h-1zM39 78h1v1h-1zM26 79h1v1h-1zM29 79h1v1h-1zM32 79h1v1h-1zM36 79h1v1h-1zM39 79h1v1h-1zM25 80h1v1h-1zM30 80h2v1h-2zM37 80h2v1h-2zM36 84h1v1h-1zM20 93h1v1h-1zM25 93h1v1h-1zM24 94h1v1h-1zM17 96h1v1h-1zM17 97h1v1h-1zM23 98h1v1h-1zM18 99h1v1h-1zM22 99h1v1h-1zM18 100h1v1h-1zM22 100h1v1h-1zM16 101h2v1h-2zM16 105h2v1h-2zM15 106h1v1h-1zM18 106h1v1h-1zM15 107h1v1h-1zM18 107h1v1h-1zM16 108h2v1h-2zM9 109h1v1h-1zM10 112h1v1h-1zM16 112h2v1h-2zM11 113h1v1h-1zM15 113h1v1h-1zM18 113h1v1h-1zM11 114h1v1h-1zM15 114h1v1h-1zM18 114h1v1h-1zM16 115h2v1h-2z"/><path fill="#862780" d="M134 7h2v1h-2zM147 8h1v1h-1zM150 8h1v1h-1zM154 8h1v1h-1zM157 8h1v1h-1zM137 9h1v1h-1zM139 9h1v1h-1zM152 9h1v1h-1zM137 10h1v1h-1zM139 10h1v1h-1zM152 10h1v1h-1zM159 10h1v1h-1zM147 11h1v1h-1zM157 11h1v1h-1zM161 11h1v1h-1zM135 12h1v1h-1zM148 13h2v1h-2zM155 13h2v1h-2zM141 14h1v1h-1zM161 15h1v1h-1zM146 16h1v1h-1zM158 16h1v1h-1zM135 17h1v1h-1zM114 18h1v1h-1zM141 18h1v1h-1zM162 18h2v1h-2zM106 20h2v1h-2zM113 20h2v1h-2zM141 20h2v1h-2zM143 21h1v1h-1zM104 22h1v1h-1zM109 22h1v1h-1zM111 22h1v1h-1zM116 22h1v1h-1zM134 22h1v1h-1zM104 23h1v1h-1zM109 23h1v1h-1zM111 23h1v1h-1zM115 24h1v1h-1zM134 24h1v1h-1zM114 25h1v1h-1zM98 28h1v1h-1zM120 28h1v1h-1zM126 29h1v1h-1zM132 29h1v1h-1zM100 31h1v1h-1zM72 33h1v1h-1zM72 34h1v1h-1zM100 34h1v1h-1zM106 34h1v1h-1zM60 35h1v1h-1zM105 35h1v1h-1zM68 36h1v1h-1zM88 36h1v1h-1zM103 36h1v1h-1zM81 38h1v1h-1zM37 39h1v1h-1zM79 39h1v1h-1zM40 44h1v1h-1zM25 45h1v1h-1zM31 48h1v1h-1zM36 49h1v1h-1zM46 49h1v1h-1zM101 49h1v1h-1zM33 50h1v1h-1zM61 51h1v1h-1zM39 52h1v1h-1zM57 52h1v1h-1zM71 52h1v1h-1zM94 52h1v1h-1zM65 53h1v1h-1zM64 56h1v1h-1zM81 56h1v1h-1zM98 56h1v1h-1zM63 57h1v1h-1zM56 58h1v1h-1zM61 58h1v1h-1zM60 59h1v1h-1zM37 61h2v1h-2zM52 61h1v1h-1zM58 61h1v1h-1zM37 62h2v1h-2zM51 62h1v1h-1zM53 63h1v1h-1zM67 63h1v1h-1zM38 69h1v1h-1zM51 69h1v1h-1zM33 71h1v1h-1zM35 71h1v1h-1zM47 71h1v1h-1zM47 72h1v1h-1zM38 82h1v1h-1zM24 89h1v1h-1zM30 89h1v1h-1zM18 94h1v1h-1zM23 103h1v1h-1zM6 113h2v1h-2zM6 114h2v1h-2zM22 115h1v1h-1zM4 119h1v1h-1zM13 120h1v1h-1z"/><path fill="#8e2a81" d="M154 4h1v1h-1zM157 4h1v1h-1zM134 6h1v1h-1zM148 6h2v1h-2zM155 6h2v1h-2zM133 8h1v1h-1zM143 8h1v1h-1zM145 9h1v1h-1zM159 9h1v1h-1zM145 10h1v1h-1zM126 11h1v1h-1zM143 11h1v1h-1zM128 12h1v1h-1zM134 12h1v1h-1zM141 13h2v1h-2zM135 14h1v1h-1zM108 15h1v1h-1zM140 16h1v1h-1zM153 16h1v1h-1zM108 17h1v1h-1zM134 17h1v1h-1zM164 17h1v1h-1zM106 19h1v1h-1zM142 19h1v1h-1zM135 21h1v1h-1zM103 22h1v1h-1zM139 22h1v1h-1zM103 23h1v1h-1zM139 23h1v1h-1zM106 25h2v1h-2zM113 25h1v1h-1zM135 25h1v1h-1zM106 27h2v1h-2zM113 27h2v1h-2zM135 27h1v1h-1zM101 28h1v1h-1zM121 28h1v1h-1zM109 29h1v1h-1zM111 29h1v1h-1zM116 29h1v1h-1zM130 29h1v1h-1zM94 31h1v1h-1zM92 32h2v1h-2zM73 34h1v1h-1zM92 34h2v1h-2zM39 35h1v1h-1zM64 35h1v1h-1zM40 36h1v1h-1zM42 36h1v1h-1zM61 36h1v1h-1zM63 36h1v1h-1zM70 36h1v1h-1zM75 36h2v1h-2zM90 36h1v1h-1zM40 37h1v1h-1zM42 37h1v1h-1zM61 37h1v1h-1zM63 37h1v1h-1zM68 37h1v1h-1zM70 37h1v1h-1zM75 37h1v1h-1zM90 37h1v1h-1zM86 38h1v1h-1zM38 39h1v1h-1zM44 39h2v1h-2zM51 39h2v1h-2zM58 39h2v1h-2zM65 39h2v1h-2zM72 39h2v1h-2zM80 39h1v1h-1zM37 41h2v1h-2zM44 41h2v1h-2zM51 41h2v1h-2zM58 41h2v1h-2zM65 41h2v1h-2zM72 41h2v1h-2zM79 41h2v1h-2zM22 42h1v1h-1zM33 43h1v1h-1zM35 43h1v1h-1zM40 43h1v1h-1zM42 43h1v1h-1zM47 43h1v1h-1zM49 43h1v1h-1zM54 43h1v1h-1zM56 43h1v1h-1zM61 43h1v1h-1zM63 43h1v1h-1zM68 43h1v1h-1zM70 43h1v1h-1zM75 43h1v1h-1zM77 43h1v1h-1zM82 43h1v1h-1zM90 43h1v1h-1zM33 44h1v1h-1zM35 44h1v1h-1zM42 44h1v1h-1zM47 44h1v1h-1zM49 44h1v1h-1zM54 44h1v1h-1zM56 44h1v1h-1zM61 44h1v1h-1zM63 44h1v1h-1zM68 44h1v1h-1zM70 44h1v1h-1zM75 44h1v1h-1zM77 44h1v1h-1zM82 44h1v1h-1zM90 44h1v1h-1zM30 46h2v1h-2zM44 46h2v1h-2zM51 46h2v1h-2zM99 46h1v1h-1zM45 48h1v1h-1zM51 48h2v1h-2zM99 48h2v1h-2zM86 49h1v1h-1zM54 50h1v1h-1zM56 50h1v1h-1zM61 50h1v1h-1zM63 50h1v1h-1zM75 50h1v1h-1zM77 50h1v1h-1zM82 50h1v1h-1zM95 50h1v1h-1zM97 50h1v1h-1zM34 51h1v1h-1zM54 51h1v1h-1zM56 51h1v1h-1zM63 51h1v1h-1zM75 51h1v1h-1zM77 51h1v1h-1zM82 51h1v1h-1zM84 51h1v1h-1zM95 51h1v1h-1zM97 51h1v1h-1zM72 53h2v1h-2zM79 53h2v1h-2zM99 53h2v1h-2zM65 54h2v1h-2zM72 55h2v1h-2zM79 55h2v1h-2zM99 55h2v1h-2zM67 56h1v1h-1zM54 57h1v1h-1zM68 57h1v1h-1zM70 57h1v1h-1zM54 58h1v1h-1zM63 58h1v1h-1zM68 58h1v1h-1zM70 58h1v1h-1zM46 59h1v1h-1zM71 59h1v1h-1zM51 60h1v1h-1zM65 60h2v1h-2zM65 62h2v1h-2zM56 64h1v1h-1zM61 64h1v1h-1zM63 64h1v1h-1zM56 65h1v1h-1zM61 65h1v1h-1zM63 65h1v1h-1zM50 66h1v1h-1zM64 66h1v1h-1zM58 67h2v1h-2zM38 68h1v1h-1zM52 69h1v1h-1zM36 70h1v1h-1zM53 70h1v1h-1zM27 72h1v1h-1zM48 72h1v1h-1zM46 77h1v1h-1zM38 81h1v1h-1zM11 105h1v1h-1zM8 122h1v1h-1z"/><path fill="#972d7e" d="M135 6h1v1h-1zM136 8h1v1h-1zM140 8h1v1h-1zM138 9h1v1h-1zM133 11h1v1h-1zM136 11h1v1h-1zM140 11h1v1h-1zM127 12h1v1h-1zM134 14h1v1h-1zM143 15h1v1h-1zM109 16h1v1h-1zM119 16h1v1h-1zM136 16h1v1h-1zM144 16h1v1h-1zM160 16h1v1h-1zM115 17h1v1h-1zM161 17h1v1h-1zM107 19h1v1h-1zM113 19h2v1h-2zM141 19h1v1h-1zM162 19h2v1h-2zM105 21h1v1h-1zM108 21h1v1h-1zM112 21h1v1h-1zM110 22h1v1h-1zM110 23h1v1h-1zM137 23h1v1h-1zM105 24h1v1h-1zM108 24h1v1h-1zM112 24h1v1h-1zM136 24h1v1h-1zM140 24h1v1h-1zM105 29h1v1h-1zM118 29h1v1h-1zM123 29h1v1h-1zM131 29h1v1h-1zM73 33h1v1h-1zM43 35h1v1h-1zM94 35h1v1h-1zM101 35h1v1h-1zM76 37h1v1h-1zM88 37h1v1h-1zM46 38h1v1h-1zM50 38h1v1h-1zM53 38h1v1h-1zM57 38h1v1h-1zM91 38h1v1h-1zM32 42h1v1h-1zM86 42h1v1h-1zM91 42h1v1h-1zM84 43h1v1h-1zM88 43h1v1h-1zM84 44h1v1h-1zM88 44h1v1h-1zM29 45h1v1h-1zM36 45h1v1h-1zM86 45h1v1h-1zM94 45h1v1h-1zM98 45h1v1h-1zM58 46h2v1h-2zM92 46h2v1h-2zM58 48h2v1h-2zM92 48h2v1h-2zM32 49h1v1h-1zM50 49h1v1h-1zM91 49h1v1h-1zM34 50h1v1h-1zM84 50h1v1h-1zM53 52h1v1h-1zM85 52h1v1h-1zM101 52h1v1h-1zM53 56h1v1h-1zM74 56h1v1h-1zM78 56h1v1h-1zM101 56h1v1h-1zM55 57h1v1h-1zM62 57h1v1h-1zM50 59h1v1h-1zM53 59h1v1h-1zM57 59h1v1h-1zM51 61h1v1h-1zM44 62h2v1h-2zM60 63h1v1h-1zM33 64h1v1h-1zM42 64h1v1h-1zM47 64h1v1h-1zM49 64h1v1h-1zM55 64h1v1h-1zM47 65h1v1h-1zM49 65h1v1h-1zM55 65h1v1h-1zM29 66h1v1h-1zM36 66h1v1h-1zM45 67h1v1h-1zM51 68h2v1h-2zM50 70h1v1h-1zM27 71h2v1h-2zM34 71h1v1h-1zM48 71h1v1h-1zM28 72h1v1h-1zM33 72h1v1h-1zM35 72h1v1h-1zM45 76h1v1h-1zM43 80h1v1h-1zM37 81h1v1h-1zM37 82h1v1h-1zM29 94h1v1h-1zM10 109h1v1h-1zM22 112h1v1h-1zM21 113h1v1h-1zM21 114h1v1h-1zM9 116h1v1h-1zM9 118h2v1h-2zM5 120h1v1h-1zM7 120h1v1h-1zM5 121h1v1h-1zM7 121h1v1h-1zM4 122h1v1h-1z"/><path fill="#a0307c" d="M138 10h1v1h-1zM134 13h2v1h-2zM119 15h1v1h-1zM145 16h1v1h-1zM152 16h1v1h-1zM120 17h1v1h-1zM115 21h1v1h-1zM140 21h1v1h-1zM117 22h1v1h-1zM137 22h1v1h-1zM118 23h1v1h-1zM106 26h2v1h-2zM113 26h2v1h-2zM135 26h1v1h-1zM134 27h1v1h-1zM108 28h1v1h-1zM112 28h1v1h-1zM115 28h1v1h-1zM110 29h1v1h-1zM125 29h1v1h-1zM109 30h1v1h-1zM111 30h1v1h-1zM116 30h1v1h-1zM118 30h1v1h-1zM98 31h1v1h-1zM99 32h1v1h-1zM92 33h2v1h-2zM99 33h1v1h-1zM71 35h1v1h-1zM74 35h1v1h-1zM91 35h1v1h-1zM41 36h1v1h-1zM62 36h1v1h-1zM69 36h1v1h-1zM89 36h1v1h-1zM41 37h1v1h-1zM62 37h1v1h-1zM69 37h1v1h-1zM89 37h1v1h-1zM39 38h1v1h-1zM43 38h1v1h-1zM60 38h1v1h-1zM64 38h1v1h-1zM67 38h1v1h-1zM71 38h1v1h-1zM74 38h1v1h-1zM37 40h2v1h-2zM44 40h2v1h-2zM51 40h2v1h-2zM58 40h2v1h-2zM65 40h2v1h-2zM72 40h2v1h-2zM79 40h2v1h-2zM36 42h1v1h-1zM39 42h1v1h-1zM43 42h1v1h-1zM46 42h1v1h-1zM50 42h1v1h-1zM53 42h1v1h-1zM57 42h1v1h-1zM60 42h1v1h-1zM64 42h1v1h-1zM67 42h1v1h-1zM71 42h1v1h-1zM74 42h1v1h-1zM78 42h1v1h-1zM81 42h1v1h-1zM34 43h1v1h-1zM41 43h1v1h-1zM48 43h1v1h-1zM55 43h1v1h-1zM62 43h1v1h-1zM69 43h1v1h-1zM76 43h1v1h-1zM83 43h1v1h-1zM89 43h1v1h-1zM34 44h1v1h-1zM41 44h1v1h-1zM48 44h1v1h-1zM55 44h1v1h-1zM62 44h1v1h-1zM69 44h1v1h-1zM76 44h1v1h-1zM83 44h1v1h-1zM89 44h1v1h-1zM32 45h1v1h-1zM43 45h1v1h-1zM46 45h1v1h-1zM50 45h1v1h-1zM53 45h1v1h-1zM57 45h1v1h-1zM60 45h1v1h-1zM64 45h1v1h-1zM67 45h1v1h-1zM71 45h1v1h-1zM74 45h1v1h-1zM78 45h1v1h-1zM81 45h1v1h-1zM91 45h1v1h-1zM65 46h2v1h-2zM30 47h2v1h-2zM44 47h2v1h-2zM100 47h1v1h-1zM53 49h1v1h-1zM57 49h1v1h-1zM60 49h1v1h-1zM64 49h1v1h-1zM67 49h1v1h-1zM71 49h1v1h-1zM81 49h1v1h-1zM94 49h1v1h-1zM98 49h1v1h-1zM55 50h1v1h-1zM62 50h1v1h-1zM76 50h1v1h-1zM83 50h1v1h-1zM96 50h1v1h-1zM55 51h1v1h-1zM62 51h1v1h-1zM76 51h1v1h-1zM83 51h1v1h-1zM96 51h1v1h-1zM64 52h1v1h-1zM74 52h1v1h-1zM78 52h1v1h-1zM81 52h1v1h-1zM98 52h1v1h-1zM72 54h2v1h-2zM79 54h2v1h-2zM99 54h2v1h-2zM71 56h1v1h-1zM69 57h1v1h-1zM55 58h1v1h-1zM62 58h1v1h-1zM69 58h1v1h-1zM64 59h1v1h-1zM67 59h1v1h-1zM44 61h2v1h-2zM65 61h2v1h-2zM32 63h1v1h-1zM50 63h1v1h-1zM57 63h1v1h-1zM64 63h1v1h-1zM35 64h1v1h-1zM40 64h1v1h-1zM62 64h1v1h-1zM33 65h1v1h-1zM35 65h1v1h-1zM40 65h1v1h-1zM42 65h1v1h-1zM62 65h1v1h-1zM57 66h1v1h-1zM60 66h1v1h-1zM30 67h2v1h-2zM44 67h1v1h-1zM59 68h1v1h-1zM30 69h2v1h-2zM44 69h2v1h-2zM32 70h1v1h-1zM46 70h1v1h-1zM40 71h1v1h-1zM42 71h1v1h-1zM40 72h1v1h-1zM42 72h1v1h-1zM46 73h1v1h-1zM30 74h2v1h-2zM37 74h2v1h-2zM44 74h2v1h-2zM30 76h2v1h-2zM37 76h2v1h-2zM44 76h1v1h-1zM27 78h2v1h-2zM33 78h1v1h-1zM35 78h1v1h-1zM40 78h1v1h-1zM42 78h1v1h-1zM28 79h1v1h-1zM33 79h1v1h-1zM35 79h1v1h-1zM40 79h1v1h-1zM42 79h1v1h-1zM30 81h2v1h-2zM30 83h2v1h-2zM25 84h1v1h-1zM32 84h1v1h-1zM26 85h1v1h-1zM28 85h1v1h-1zM26 86h1v1h-1zM28 86h1v1h-1zM25 87h1v1h-1zM29 87h1v1h-1zM25 91h1v1h-1zM29 91h1v1h-1zM26 92h1v1h-1zM28 92h1v1h-1zM26 93h1v1h-1zM28 93h1v1h-1zM23 95h2v1h-2zM23 97h2v1h-2zM12 106h1v1h-1zM14 106h1v1h-1zM12 107h1v1h-1zM14 107h1v1h-1zM9 110h1v1h-1zM9 111h2v1h-2zM16 111h1v1h-1zM12 113h1v1h-1zM14 113h1v1h-1zM19 113h1v1h-1zM12 114h1v1h-1zM14 114h1v1h-1zM19 114h1v1h-1zM10 116h1v1h-1zM16 116h2v1h-2zM16 118h2v1h-2zM11 119h1v1h-1zM15 119h1v1h-1zM18 119h1v1h-1z"/><path fill="#a93379" d="M140 15h1v1h-1zM116 16h1v1h-1zM159 16h1v1h-1zM121 17h1v1h-1zM140 17h1v1h-1zM135 18h1v1h-1zM134 21h1v1h-1zM118 22h2v1h-2zM138 22h1v1h-1zM119 23h1v1h-1zM138 23h1v1h-1zM134 25h1v1h-1zM117 29h1v1h-1zM124 29h1v1h-1zM105 30h1v1h-1zM100 32h1v1h-1zM85 38h1v1h-1zM72 46h2v1h-2zM79 46h2v1h-2zM51 47h2v1h-2zM99 47h1v1h-1zM65 48h2v1h-2zM74 49h1v1h-1zM78 49h1v1h-1zM87 49h1v1h-1zM36 63h1v1h-1zM39 63h1v1h-1zM43 63h1v1h-1zM46 63h1v1h-1zM48 64h1v1h-1zM48 65h1v1h-1zM32 66h1v1h-1zM39 66h1v1h-1zM43 66h1v1h-1zM46 66h1v1h-1zM58 68h1v1h-1zM29 70h1v1h-1zM43 70h1v1h-1zM34 72h1v1h-1zM43 73h1v1h-1zM43 77h1v1h-1zM27 79h1v1h-1zM29 80h1v1h-1zM32 80h1v1h-1zM36 80h1v1h-1zM39 80h1v1h-1zM29 84h1v1h-1zM22 94h1v1h-1zM18 98h1v1h-1zM25 98h1v1h-1zM19 99h1v1h-1zM21 99h1v1h-1zM19 100h1v1h-1zM21 100h1v1h-1zM15 101h1v1h-1zM22 101h1v1h-1zM16 102h2v1h-2zM16 104h2v1h-2zM22 105h1v1h-1zM19 106h1v1h-1zM21 106h1v1h-1zM19 107h1v1h-1zM21 107h1v1h-1zM22 108h1v1h-1zM16 109h2v1h-2zM17 111h1v1h-1zM8 112h1v1h-1zM11 112h1v1h-1zM8 115h1v1h-1zM11 115h1v1h-1zM8 119h1v1h-1zM6 120h1v1h-1zM6 121h1v1h-1z"/><path fill="#b23676" d="M127 13h2v1h-2zM127 14h2v1h-2zM122 15h1v1h-1zM127 15h1v1h-1zM136 15h1v1h-1zM133 16h1v1h-1zM134 18h1v1h-1zM157 18h1v1h-1zM135 20h1v1h-1zM136 21h1v1h-1zM120 23h1v1h-1zM119 28h1v1h-1zM133 28h1v1h-1zM110 30h1v1h-1zM117 30h1v1h-1zM113 31h2v1h-2zM119 31h1v1h-1zM100 33h1v1h-1zM113 33h1v1h-1zM87 38h1v1h-1zM85 42h1v1h-1zM87 42h1v1h-1zM85 45h1v1h-1zM87 45h1v1h-1zM58 47h2v1h-2zM92 47h2v1h-2zM85 49h1v1h-1zM34 64h1v1h-1zM41 64h1v1h-1zM34 65h1v1h-1zM41 65h1v1h-1zM30 68h2v1h-2zM44 68h2v1h-2zM39 70h1v1h-1zM41 71h1v1h-1zM41 72h1v1h-1zM29 73h1v1h-1zM32 73h1v1h-1zM36 73h1v1h-1zM39 73h1v1h-1zM30 75h1v1h-1zM44 75h2v1h-2zM29 77h1v1h-1zM32 77h1v1h-1zM36 77h1v1h-1zM39 77h1v1h-1zM34 78h1v1h-1zM41 78h1v1h-1zM34 79h1v1h-1zM41 79h1v1h-1zM30 82h2v1h-2zM27 85h1v1h-1zM27 86h1v1h-1zM27 92h1v1h-1zM27 93h1v1h-1zM25 94h1v1h-1zM22 98h1v1h-1zM18 101h1v1h-1zM15 105h1v1h-1zM18 105h1v1h-1zM11 108h1v1h-1zM15 108h1v1h-1zM18 108h1v1h-1zM10 110h1v1h-1zM15 112h1v1h-1zM18 112h1v1h-1zM13 113h1v1h-1zM13 114h1v1h-1zM15 115h1v1h-1zM18 115h1v1h-1zM9 117h2v1h-2zM16 117h1v1h-1z"/><path fill="#bb3a74" d="M137 4h1v1h-1zM139 4h1v1h-1zM146 4h1v1h-1zM129 5h1v1h-1zM140 5h1v1h-1zM143 5h1v1h-1zM161 5h1v1h-1zM116 11h1v1h-1zM108 12h1v1h-1zM150 14h1v1h-1zM128 15h1v1h-1zM122 16h1v1h-1zM102 17h1v1h-1zM104 17h1v1h-1zM136 17h1v1h-1zM167 17h1v1h-1zM147 18h1v1h-1zM150 18h1v1h-1zM154 18h1v1h-1zM135 19h1v1h-1zM150 20h1v1h-1zM167 21h1v1h-1zM120 22h1v1h-1zM134 26h1v1h-1zM94 27h1v1h-1zM120 27h1v1h-1zM127 28h2v1h-2zM61 31h1v1h-1zM63 31h1v1h-1zM77 31h1v1h-1zM106 31h2v1h-2zM43 32h1v1h-1zM78 32h1v1h-1zM107 33h1v1h-1zM114 33h1v1h-1zM33 35h1v1h-1zM109 35h1v1h-1zM105 39h1v1h-1zM72 48h2v1h-2zM79 48h2v1h-2zM43 55h1v1h-1zM35 56h1v1h-1zM31 75h1v1h-1zM37 75h2v1h-2zM23 96h2v1h-2zM20 99h1v1h-1zM20 100h1v1h-1zM16 103h2v1h-2zM13 106h1v1h-1zM20 106h1v1h-1zM13 107h1v1h-1zM20 107h1v1h-1zM16 110h2v1h-2zM20 113h1v1h-1zM20 114h1v1h-1zM17 117h1v1h-1z"/><path fill="#c33d71" d="M151 4h1v1h-1zM133 5h1v1h-1zM129 7h1v1h-1zM161 7h1v1h-1zM123 11h1v1h-1zM112 12h1v1h-1zM115 12h1v1h-1zM112 14h1v1h-1zM115 14h1v1h-1zM161 14h1v1h-1zM133 15h1v1h-1zM158 15h1v1h-1zM118 16h1v1h-1zM127 16h1v1h-1zM119 17h1v1h-1zM144 17h1v1h-1zM151 17h1v1h-1zM105 18h1v1h-1zM120 18h1v1h-1zM143 18h1v1h-1zM134 20h1v1h-1zM147 20h1v1h-1zM102 21h1v1h-1zM144 21h1v1h-1zM146 21h1v1h-1zM160 21h1v1h-1zM165 21h1v1h-1zM133 23h1v1h-1zM102 24h1v1h-1zM120 24h1v1h-1zM121 27h1v1h-1zM95 28h1v1h-1zM105 28h1v1h-1zM122 28h1v1h-1zM137 28h1v1h-1zM102 29h1v1h-1zM75 31h1v1h-1zM90 31h1v1h-1zM101 31h1v1h-1zM60 32h1v1h-1zM64 32h1v1h-1zM106 33h1v1h-1zM36 34h1v1h-1zM60 34h1v1h-1zM98 34h1v1h-1zM112 34h1v1h-1zM119 34h1v1h-1zM35 35h1v1h-1zM77 35h1v1h-1zM116 35h1v1h-1zM21 38h1v1h-1zM33 38h1v1h-1zM104 38h1v1h-1zM22 39h1v1h-1zM32 39h1v1h-1zM86 39h1v1h-1zM101 39h1v1h-1zM86 41h1v1h-1zM101 41h1v1h-1zM105 41h1v1h-1zM102 42h1v1h-1zM104 42h1v1h-1zM25 46h1v1h-1zM39 48h1v1h-1zM40 49h1v1h-1zM102 49h1v1h-1zM70 52h1v1h-1zM32 53h1v1h-1zM36 53h1v1h-1zM57 53h1v1h-1zM94 53h1v1h-1zM105 53h1v1h-1zM32 55h1v1h-1zM60 55h1v1h-1zM105 55h1v1h-1zM33 56h1v1h-1zM42 56h1v1h-1zM56 56h1v1h-1zM97 56h1v1h-1zM104 56h1v1h-1zM40 59h1v1h-1zM42 59h1v1h-1zM32 60h1v1h-1zM39 60h1v1h-1zM71 60h1v1h-1zM68 63h1v1h-1zM61 70h1v1h-1zM47 77h1v1h-1zM29 97h1v1h-1zM11 104h1v1h-1zM5 112h1v1h-1zM4 118h1v1h-1zM22 118h1v1h-1zM8 123h1v1h-1zM4 125h1v1h-1zM5 126h1v1h-1z"/><path fill="#cc416e" d="M153 4h1v1h-1zM158 4h1v1h-1zM160 4h1v1h-1zM136 5h1v1h-1zM147 5h1v1h-1zM150 5h1v1h-1zM143 7h1v1h-1zM147 7h1v1h-1zM150 7h1v1h-1zM154 7h1v1h-1zM157 7h1v1h-1zM132 8h1v1h-1zM146 8h1v1h-1zM151 8h1v1h-1zM153 8h1v1h-1zM158 8h1v1h-1zM125 11h1v1h-1zM132 11h1v1h-1zM144 11h1v1h-1zM146 11h1v1h-1zM151 11h1v1h-1zM153 11h1v1h-1zM158 11h1v1h-1zM160 11h1v1h-1zM143 12h1v1h-1zM147 12h1v1h-1zM150 12h1v1h-1zM154 12h1v1h-1zM157 12h1v1h-1zM161 12h1v1h-1zM108 14h1v1h-1zM119 14h1v1h-1zM147 14h1v1h-1zM154 14h1v1h-1zM157 14h1v1h-1zM111 15h1v1h-1zM153 15h1v1h-1zM160 15h1v1h-1zM117 16h1v1h-1zM111 17h1v1h-1zM153 17h1v1h-1zM158 17h1v1h-1zM165 17h1v1h-1zM134 19h1v1h-1zM143 20h1v1h-1zM161 20h1v1h-1zM164 20h1v1h-1zM120 21h1v1h-1zM133 22h1v1h-1zM119 24h1v1h-1zM140 25h1v1h-1zM98 27h1v1h-1zM101 27h1v1h-1zM97 28h1v1h-1zM74 32h1v1h-1zM39 34h1v1h-1zM43 34h1v1h-1zM64 34h1v1h-1zM108 34h1v1h-1zM68 35h1v1h-1zM88 35h1v1h-1zM95 35h1v1h-1zM19 38h1v1h-1zM77 38h1v1h-1zM82 38h1v1h-1zM102 38h1v1h-1zM18 39h1v1h-1zM36 39h1v1h-1zM18 41h1v1h-1zM32 41h1v1h-1zM19 42h1v1h-1zM26 45h1v1h-1zM28 45h1v1h-1zM40 45h1v1h-1zM97 45h1v1h-1zM86 46h1v1h-1zM101 46h1v1h-1zM65 47h2v1h-2zM29 48h1v1h-1zM36 48h1v1h-1zM43 48h1v1h-1zM47 49h1v1h-1zM33 52h1v1h-1zM35 52h1v1h-1zM40 52h1v1h-1zM104 52h1v1h-1zM39 53h1v1h-1zM60 53h1v1h-1zM67 53h1v1h-1zM64 55h1v1h-1zM85 55h1v1h-1zM61 56h1v1h-1zM82 56h1v1h-1zM84 56h1v1h-1zM43 60h1v1h-1zM53 60h1v1h-1zM60 60h1v1h-1zM53 62h1v1h-1zM54 63h1v1h-1zM28 66h1v1h-1zM54 66h1v1h-1zM36 67h1v1h-1zM53 67h1v1h-1zM64 67h1v1h-1zM36 69h1v1h-1zM26 70h1v1h-1zM35 70h1v1h-1zM54 70h1v1h-1zM56 70h1v1h-1zM49 73h1v1h-1zM26 77h1v1h-1zM25 81h1v1h-1zM43 81h1v1h-1zM35 84h1v1h-1zM29 95h1v1h-1zM28 98h1v1h-1zM14 101h1v1h-1zM8 109h1v1h-1zM22 116h1v1h-1zM21 119h1v1h-1zM4 123h1v1h-1z"/><path fill="#d4456b" d="M154 5h1v1h-1zM157 5h1v1h-1zM133 7h1v1h-1zM136 7h1v1h-1zM140 7h1v1h-1zM137 8h1v1h-1zM139 8h1v1h-1zM144 8h1v1h-1zM160 8h1v1h-1zM129 12h1v1h-1zM136 12h1v1h-1zM140 12h1v1h-1zM122 14h1v1h-1zM143 14h1v1h-1zM109 15h1v1h-1zM116 15h1v1h-1zM146 15h1v1h-1zM128 16h1v1h-1zM109 17h1v1h-1zM133 17h1v1h-1zM160 17h1v1h-1zM108 18h1v1h-1zM112 18h1v1h-1zM121 18h1v1h-1zM161 18h1v1h-1zM164 18h1v1h-1zM154 19h1v1h-1zM105 20h1v1h-1zM108 20h1v1h-1zM112 20h1v1h-1zM104 21h1v1h-1zM109 21h1v1h-1zM111 21h1v1h-1zM119 21h1v1h-1zM104 24h1v1h-1zM109 24h1v1h-1zM111 24h1v1h-1zM108 25h1v1h-1zM112 25h1v1h-1zM115 25h1v1h-1zM120 25h1v1h-1zM120 26h1v1h-1zM136 27h1v1h-1zM129 28h1v1h-1zM102 30h1v1h-1zM95 31h1v1h-1zM97 31h1v1h-1zM115 31h1v1h-1zM91 32h1v1h-1zM71 34h1v1h-1zM115 34h1v1h-1zM40 35h1v1h-1zM61 35h1v1h-1zM63 35h1v1h-1zM70 35h1v1h-1zM104 35h1v1h-1zM47 38h1v1h-1zM49 38h1v1h-1zM54 38h1v1h-1zM56 38h1v1h-1zM84 38h1v1h-1zM78 39h1v1h-1zM91 39h1v1h-1zM22 41h1v1h-1zM91 41h1v1h-1zM21 42h1v1h-1zM95 45h1v1h-1zM29 46h1v1h-1zM36 46h1v1h-1zM86 48h1v1h-1zM101 48h1v1h-1zM35 49h1v1h-1zM49 49h1v1h-1zM70 49h1v1h-1zM90 49h1v1h-1zM56 52h1v1h-1zM61 52h1v1h-1zM95 52h1v1h-1zM102 52h1v1h-1zM53 53h1v1h-1zM71 53h1v1h-1zM85 53h1v1h-1zM53 55h1v1h-1zM67 55h1v1h-1zM98 55h1v1h-1zM54 56h1v1h-1zM63 56h1v1h-1zM75 56h1v1h-1zM77 56h1v1h-1zM102 56h1v1h-1zM47 59h1v1h-1zM49 59h1v1h-1zM54 59h1v1h-1zM56 59h1v1h-1zM61 59h1v1h-1zM57 60h1v1h-1zM32 62h1v1h-1zM36 62h1v1h-1zM57 62h1v1h-1zM60 62h1v1h-1zM67 62h1v1h-1zM50 67h1v1h-1zM50 69h1v1h-1zM53 69h1v1h-1zM57 69h1v1h-1zM60 69h1v1h-1zM33 70h1v1h-1zM47 70h1v1h-1zM49 70h1v1h-1zM47 73h1v1h-1zM46 76h1v1h-1zM26 80h1v1h-1zM39 81h1v1h-1zM25 83h1v1h-1zM36 83h1v1h-1zM33 84h1v1h-1zM29 88h1v1h-1zM29 90h1v1h-1zM19 94h1v1h-1zM18 95h1v1h-1zM22 111h1v1h-1zM7 112h1v1h-1zM7 115h1v1h-1zM5 119h1v1h-1zM12 119h1v1h-1zM7 122h1v1h-1z"/><path fill="#dc4869" d="M138 4h1v1h-1zM145 4h1v1h-1zM129 6h1v1h-1zM161 6h1v1h-1zM117 11h1v1h-1zM137 11h1v1h-1zM139 11h1v1h-1zM126 12h1v1h-1zM133 12h1v1h-1zM136 14h1v1h-1zM140 14h1v1h-1zM126 15h1v1h-1zM144 15h1v1h-1zM126 16h1v1h-1zM137 16h1v1h-1zM103 17h1v1h-1zM115 18h1v1h-1zM140 18h1v1h-1zM120 19h1v1h-1zM150 19h1v1h-1zM115 20h1v1h-1zM120 20h1v1h-1zM140 20h1v1h-1zM116 21h1v1h-1zM139 21h1v1h-1zM159 21h1v1h-1zM121 22h1v1h-1zM121 23h1v1h-1zM133 24h1v1h-1zM137 24h1v1h-1zM139 24h1v1h-1zM105 25h1v1h-1zM136 25h1v1h-1zM94 26h1v1h-1zM108 27h1v1h-1zM112 27h1v1h-1zM115 27h1v1h-1zM109 28h1v1h-1zM111 28h1v1h-1zM116 28h1v1h-1zM62 31h1v1h-1zM89 31h1v1h-1zM94 32h1v1h-1zM98 32h1v1h-1zM114 32h1v1h-1zM78 33h1v1h-1zM74 34h1v1h-1zM91 34h1v1h-1zM94 34h1v1h-1zM101 34h1v1h-1zM105 34h1v1h-1zM42 35h1v1h-1zM75 35h1v1h-1zM90 35h1v1h-1zM102 35h1v1h-1zM40 38h1v1h-1zM42 38h1v1h-1zM61 38h1v1h-1zM63 38h1v1h-1zM68 38h1v1h-1zM70 38h1v1h-1zM75 38h1v1h-1zM88 38h1v1h-1zM90 38h1v1h-1zM39 39h1v1h-1zM43 39h1v1h-1zM46 39h1v1h-1zM50 39h1v1h-1zM53 39h1v1h-1zM57 39h1v1h-1zM60 39h1v1h-1zM64 39h1v1h-1zM67 39h1v1h-1zM71 39h1v1h-1zM74 39h1v1h-1zM81 39h1v1h-1zM86 40h1v1h-1zM36 41h1v1h-1zM39 41h1v1h-1zM43 41h1v1h-1zM46 41h1v1h-1zM50 41h1v1h-1zM53 41h1v1h-1zM57 41h1v1h-1zM60 41h1v1h-1zM64 41h1v1h-1zM67 41h1v1h-1zM71 41h1v1h-1zM74 41h1v1h-1zM78 41h1v1h-1zM81 41h1v1h-1zM33 42h1v1h-1zM35 42h1v1h-1zM40 42h1v1h-1zM42 42h1v1h-1zM47 42h1v1h-1zM49 42h1v1h-1zM54 42h1v1h-1zM56 42h1v1h-1zM61 42h1v1h-1zM63 42h1v1h-1zM68 42h1v1h-1zM70 42h1v1h-1zM75 42h1v1h-1zM77 42h1v1h-1zM82 42h1v1h-1zM84 42h1v1h-1zM88 42h1v1h-1zM90 42h1v1h-1zM33 45h1v1h-1zM35 45h1v1h-1zM42 45h1v1h-1zM47 45h1v1h-1zM49 45h1v1h-1zM54 45h1v1h-1zM56 45h1v1h-1zM61 45h1v1h-1zM63 45h1v1h-1zM68 45h1v1h-1zM70 45h1v1h-1zM75 45h1v1h-1zM77 45h1v1h-1zM82 45h1v1h-1zM84 45h1v1h-1zM88 45h1v1h-1zM90 45h1v1h-1zM32 46h1v1h-1zM43 46h1v1h-1zM46 46h1v1h-1zM50 46h1v1h-1zM53 46h1v1h-1zM57 46h1v1h-1zM60 46h1v1h-1zM91 46h1v1h-1zM94 46h1v1h-1zM98 46h1v1h-1zM25 47h1v1h-1zM32 48h1v1h-1zM46 48h1v1h-1zM50 48h1v1h-1zM53 48h1v1h-1zM57 48h1v1h-1zM94 48h1v1h-1zM98 48h1v1h-1zM33 49h1v1h-1zM54 49h1v1h-1zM56 49h1v1h-1zM61 49h1v1h-1zM63 49h1v1h-1zM68 49h1v1h-1zM75 49h1v1h-1zM77 49h1v1h-1zM82 49h1v1h-1zM88 49h1v1h-1zM95 49h1v1h-1zM97 49h1v1h-1zM103 49h1v1h-1zM54 52h1v1h-1zM63 52h1v1h-1zM75 52h1v1h-1zM77 52h1v1h-1zM82 52h1v1h-1zM84 52h1v1h-1zM97 52h1v1h-1zM64 53h1v1h-1zM74 53h1v1h-1zM78 53h1v1h-1zM81 53h1v1h-1zM98 53h1v1h-1zM101 53h1v1h-1zM94 54h1v1h-1zM71 55h1v1h-1zM74 55h1v1h-1zM78 55h1v1h-1zM81 55h1v1h-1zM101 55h1v1h-1zM68 56h1v1h-1zM70 56h1v1h-1zM96 56h1v1h-1zM63 59h1v1h-1zM68 59h1v1h-1zM70 59h1v1h-1zM46 60h1v1h-1zM50 60h1v1h-1zM64 60h1v1h-1zM67 60h1v1h-1zM71 61h1v1h-1zM39 62h1v1h-1zM43 62h1v1h-1zM46 62h1v1h-1zM50 62h1v1h-1zM64 62h1v1h-1zM33 63h1v1h-1zM35 63h1v1h-1zM40 63h1v1h-1zM42 63h1v1h-1zM47 63h1v1h-1zM49 63h1v1h-1zM56 63h1v1h-1zM61 63h1v1h-1zM63 63h1v1h-1zM69 63h1v1h-1zM35 66h1v1h-1zM47 66h1v1h-1zM49 66h1v1h-1zM56 66h1v1h-1zM61 66h1v1h-1zM63 66h1v1h-1zM29 67h1v1h-1zM39 67h1v1h-1zM46 67h1v1h-1zM57 67h1v1h-1zM60 67h1v1h-1zM32 69h1v1h-1zM39 69h1v1h-1zM46 69h1v1h-1zM28 70h1v1h-1zM62 70h1v1h-1zM28 73h1v1h-1zM46 74h1v1h-1zM28 77h1v1h-1zM42 80h1v1h-1zM32 83h1v1h-1zM28 87h1v1h-1zM25 88h1v1h-1zM25 90h1v1h-1zM28 91h1v1h-1zM21 94h1v1h-1zM28 94h1v1h-1zM18 97h1v1h-1zM26 98h1v1h-1zM22 102h1v1h-1zM22 104h1v1h-1zM12 105h1v1h-1zM22 109h1v1h-1zM8 111h1v1h-1zM21 115h1v1h-1zM8 116h1v1h-1zM8 118h1v1h-1zM11 118h1v1h-1zM7 119h1v1h-1zM14 119h1v1h-1zM19 119h1v1h-1zM5 122h1v1h-1z"/><path fill="#e15269" d="M152 4h1v1h-1zM140 6h1v1h-1zM143 6h1v1h-1zM131 8h1v1h-1zM124 11h1v1h-1zM131 11h1v1h-1zM108 13h1v1h-1zM112 13h1v1h-1zM115 13h1v1h-1zM119 13h1v1h-1zM122 13h1v1h-1zM150 13h1v1h-1zM161 13h1v1h-1zM133 14h1v1h-1zM118 15h1v1h-1zM152 15h1v1h-1zM139 16h1v1h-1zM116 17h1v1h-1zM122 17h1v1h-1zM166 17h1v1h-1zM136 18h1v1h-1zM143 19h1v1h-1zM147 19h1v1h-1zM136 20h1v1h-1zM137 21h1v1h-1zM145 21h1v1h-1zM166 21h1v1h-1zM121 24h1v1h-1zM121 25h1v1h-1zM98 26h1v1h-1zM121 26h1v1h-1zM140 26h1v1h-1zM96 28h1v1h-1zM118 28h1v1h-1zM126 28h1v1h-1zM76 31h1v1h-1zM108 31h1v1h-1zM112 31h1v1h-1zM106 32h1v1h-1zM113 32h1v1h-1zM119 32h1v1h-1zM43 33h1v1h-1zM60 33h1v1h-1zM64 33h1v1h-1zM71 33h1v1h-1zM34 35h1v1h-1zM96 35h1v1h-1zM117 35h1v1h-1zM20 38h1v1h-1zM34 38h1v1h-1zM103 38h1v1h-1zM85 39h1v1h-1zM32 40h1v1h-1zM101 40h1v1h-1zM105 40h1v1h-1zM103 42h1v1h-1zM64 46h1v1h-1zM67 46h1v1h-1zM39 47h1v1h-1zM72 47h2v1h-2zM79 47h2v1h-2zM60 48h1v1h-1zM64 48h1v1h-1zM91 48h1v1h-1zM84 49h1v1h-1zM41 52h1v1h-1zM32 54h1v1h-1zM36 54h1v1h-1zM39 54h1v1h-1zM60 54h1v1h-1zM105 54h1v1h-1zM34 56h1v1h-1zM32 61h1v1h-1zM36 61h1v1h-1zM33 66h1v1h-1zM40 66h1v1h-1zM42 66h1v1h-1zM32 67h1v1h-1zM43 67h1v1h-1zM64 68h1v1h-1zM29 69h1v1h-1zM43 69h1v1h-1zM40 70h1v1h-1zM42 70h1v1h-1zM55 70h1v1h-1zM33 73h1v1h-1zM35 73h1v1h-1zM40 73h1v1h-1zM42 73h1v1h-1zM29 74h1v1h-1zM32 74h1v1h-1zM36 74h1v1h-1zM39 74h1v1h-1zM43 74h1v1h-1zM29 76h1v1h-1zM32 76h1v1h-1zM36 76h1v1h-1zM39 76h1v1h-1zM43 76h1v1h-1zM33 77h1v1h-1zM35 77h1v1h-1zM40 77h1v1h-1zM42 77h1v1h-1zM28 80h1v1h-1zM33 80h1v1h-1zM35 80h1v1h-1zM40 80h1v1h-1zM29 81h1v1h-1zM32 81h1v1h-1zM36 81h1v1h-1zM43 82h1v1h-1zM29 83h1v1h-1zM26 84h1v1h-1zM28 84h1v1h-1zM26 87h1v1h-1zM26 91h1v1h-1zM26 94h1v1h-1zM22 95h1v1h-1zM25 95h1v1h-1zM29 96h1v1h-1zM22 97h1v1h-1zM25 97h1v1h-1zM19 98h1v1h-1zM21 98h1v1h-1zM13 101h1v1h-1zM19 101h1v1h-1zM21 101h1v1h-1zM15 102h1v1h-1zM18 102h1v1h-1zM15 104h1v1h-1zM18 104h1v1h-1zM14 105h1v1h-1zM19 105h1v1h-1zM21 105h1v1h-1zM12 108h1v1h-1zM14 108h1v1h-1zM19 108h1v1h-1zM21 108h1v1h-1zM11 109h1v1h-1zM15 109h1v1h-1zM18 109h1v1h-1zM11 111h1v1h-1zM15 111h1v1h-1zM18 111h1v1h-1zM12 112h1v1h-1zM14 112h1v1h-1zM19 112h1v1h-1zM21 112h1v1h-1zM6 115h1v1h-1zM12 115h1v1h-1zM14 115h1v1h-1zM19 115h1v1h-1zM11 116h1v1h-1zM15 116h1v1h-1zM18 116h1v1h-1zM22 117h1v1h-1zM15 118h1v1h-1zM18 118h1v1h-1zM4 124h1v1h-1z"/><path fill="#e55c69" d="M159 4h1v1h-1zM133 6h1v1h-1zM147 6h1v1h-1zM150 6h1v1h-1zM154 6h1v1h-1zM157 6h1v1h-1zM145 8h1v1h-1zM152 8h1v1h-1zM159 8h1v1h-1zM145 11h1v1h-1zM152 11h1v1h-1zM159 11h1v1h-1zM143 13h1v1h-1zM147 13h1v1h-1zM154 13h1v1h-1zM157 13h1v1h-1zM110 15h1v1h-1zM123 16h1v1h-1zM110 17h1v1h-1zM118 17h1v1h-1zM127 17h1v1h-1zM152 17h1v1h-1zM159 17h1v1h-1zM105 19h1v1h-1zM108 19h1v1h-1zM112 19h1v1h-1zM161 19h1v1h-1zM164 19h1v1h-1zM103 21h1v1h-1zM110 21h1v1h-1zM121 21h1v1h-1zM133 21h1v1h-1zM103 24h1v1h-1zM118 24h1v1h-1zM105 27h1v1h-1zM119 27h1v1h-1zM102 28h1v1h-1zM132 28h1v1h-1zM96 31h1v1h-1zM118 31h1v1h-1zM107 32h1v1h-1zM98 33h1v1h-1zM119 33h1v1h-1zM69 35h1v1h-1zM76 35h1v1h-1zM48 38h1v1h-1zM55 38h1v1h-1zM83 38h1v1h-1zM87 39h1v1h-1zM18 40h1v1h-1zM22 40h1v1h-1zM91 40h1v1h-1zM85 41h1v1h-1zM87 41h1v1h-1zM20 42h1v1h-1zM27 45h1v1h-1zM96 45h1v1h-1zM71 46h1v1h-1zM74 46h1v1h-1zM78 46h1v1h-1zM81 46h1v1h-1zM29 47h1v1h-1zM36 47h1v1h-1zM101 47h1v1h-1zM67 48h1v1h-1zM48 49h1v1h-1zM89 49h1v1h-1zM34 52h1v1h-1zM103 52h1v1h-1zM53 54h1v1h-1zM67 54h1v1h-1zM85 54h1v1h-1zM55 56h1v1h-1zM62 56h1v1h-1zM76 56h1v1h-1zM83 56h1v1h-1zM103 56h1v1h-1zM48 59h1v1h-1zM39 61h1v1h-1zM57 61h1v1h-1zM60 61h1v1h-1zM55 66h1v1h-1zM36 68h1v1h-1zM50 68h1v1h-1zM53 68h1v1h-1zM48 70h1v1h-1zM27 73h1v1h-1zM48 73h1v1h-1zM27 77h1v1h-1zM25 82h1v1h-1zM39 82h1v1h-1zM34 84h1v1h-1zM25 89h1v1h-1zM29 89h1v1h-1zM20 94h1v1h-1zM18 96h1v1h-1zM27 98h1v1h-1zM22 103h1v1h-1zM8 110h1v1h-1zM22 110h1v1h-1zM6 112h1v1h-1zM13 119h1v1h-1zM20 119h1v1h-1z"/><path fill="#e8656a" d="M136 6h1v1h-1zM138 8h1v1h-1zM133 13h1v1h-1zM136 13h1v1h-1zM140 13h1v1h-1zM126 14h1v1h-1zM129 14h1v1h-1zM129 15h1v1h-1zM145 15h1v1h-1zM132 16h1v1h-1zM128 17h1v1h-1zM119 18h1v1h-1zM115 19h1v1h-1zM121 19h1v1h-1zM140 19h1v1h-1zM121 20h1v1h-1zM118 21h1v1h-1zM110 24h1v1h-1zM117 24h1v1h-1zM138 24h1v1h-1zM108 26h1v1h-1zM112 26h1v1h-1zM115 26h1v1h-1zM136 26h1v1h-1zM128 27h1v1h-1zM133 27h1v1h-1zM110 28h1v1h-1zM130 28h1v1h-1zM104 29h1v1h-1zM105 31h1v1h-1zM116 31h1v1h-1zM101 32h1v1h-1zM74 33h1v1h-1zM91 33h1v1h-1zM94 33h1v1h-1zM41 35h1v1h-1zM62 35h1v1h-1zM89 35h1v1h-1zM103 35h1v1h-1zM41 38h1v1h-1zM62 38h1v1h-1zM69 38h1v1h-1zM76 38h1v1h-1zM89 38h1v1h-1zM36 40h1v1h-1zM39 40h1v1h-1zM43 40h1v1h-1zM46 40h1v1h-1zM50 40h1v1h-1zM53 40h1v1h-1zM57 40h1v1h-1zM60 40h1v1h-1zM64 40h1v1h-1zM67 40h1v1h-1zM71 40h1v1h-1zM74 40h1v1h-1zM78 40h1v1h-1zM81 40h1v1h-1zM34 42h1v1h-1zM41 42h1v1h-1zM48 42h1v1h-1zM55 42h1v1h-1zM62 42h1v1h-1zM69 42h1v1h-1zM76 42h1v1h-1zM83 42h1v1h-1zM89 42h1v1h-1zM34 45h1v1h-1zM41 45h1v1h-1zM48 45h1v1h-1zM55 45h1v1h-1zM62 45h1v1h-1zM69 45h1v1h-1zM76 45h1v1h-1zM83 45h1v1h-1zM89 45h1v1h-1zM85 46h1v1h-1zM87 46h1v1h-1zM32 47h1v1h-1zM43 47h1v1h-1zM46 47h1v1h-1zM50 47h1v1h-1zM53 47h1v1h-1zM86 47h1v1h-1zM98 47h1v1h-1zM71 48h1v1h-1zM74 48h1v1h-1zM78 48h1v1h-1zM81 48h1v1h-1zM87 48h1v1h-1zM34 49h1v1h-1zM55 49h1v1h-1zM62 49h1v1h-1zM69 49h1v1h-1zM76 49h1v1h-1zM83 49h1v1h-1zM96 49h1v1h-1zM55 52h1v1h-1zM62 52h1v1h-1zM76 52h1v1h-1zM83 52h1v1h-1zM96 52h1v1h-1zM64 54h1v1h-1zM71 54h1v1h-1zM74 54h1v1h-1zM78 54h1v1h-1zM81 54h1v1h-1zM98 54h1v1h-1zM101 54h1v1h-1zM69 56h1v1h-1zM55 59h1v1h-1zM62 59h1v1h-1zM69 59h1v1h-1zM43 61h1v1h-1zM46 61h1v1h-1zM50 61h1v1h-1zM64 61h1v1h-1zM67 61h1v1h-1zM34 63h1v1h-1zM41 63h1v1h-1zM48 63h1v1h-1zM55 63h1v1h-1zM62 63h1v1h-1zM34 66h1v1h-1zM48 66h1v1h-1zM62 66h1v1h-1zM29 68h1v1h-1zM32 68h1v1h-1zM39 68h1v1h-1zM46 68h1v1h-1zM57 68h1v1h-1zM60 68h1v1h-1zM27 70h1v1h-1zM46 75h1v1h-1zM27 80h1v1h-1zM41 80h1v1h-1zM36 82h1v1h-1zM8 117h1v1h-1zM6 119h1v1h-1zM6 122h1v1h-1z"/><path fill="#ec6e6b" d="M138 11h1v1h-1zM126 13h1v1h-1zM129 13h1v1h-1zM117 15h1v1h-1zM123 15h1v1h-1zM137 15h1v1h-1zM125 16h1v1h-1zM137 17h1v1h-1zM139 17h1v1h-1zM133 18h1v1h-1zM136 19h1v1h-1zM119 20h1v1h-1zM117 21h1v1h-1zM138 21h1v1h-1zM132 23h1v1h-1zM119 25h1v1h-1zM105 26h1v1h-1zM127 27h1v1h-1zM117 28h1v1h-1zM123 28h1v1h-1zM101 33h1v1h-1zM57 47h1v1h-1zM60 47h1v1h-1zM91 47h1v1h-1zM94 47h1v1h-1zM85 48h1v1h-1zM41 66h1v1h-1zM43 68h1v1h-1zM41 70h1v1h-1zM34 73h1v1h-1zM41 73h1v1h-1zM29 75h1v1h-1zM32 75h1v1h-1zM36 75h1v1h-1zM39 75h1v1h-1zM43 75h1v1h-1zM34 77h1v1h-1zM41 77h1v1h-1zM34 80h1v1h-1zM29 82h1v1h-1zM32 82h1v1h-1zM27 84h1v1h-1zM27 87h1v1h-1zM27 91h1v1h-1zM27 94h1v1h-1zM22 96h1v1h-1zM25 96h1v1h-1zM20 98h1v1h-1zM20 101h1v1h-1zM15 103h1v1h-1zM18 103h1v1h-1zM13 105h1v1h-1zM20 105h1v1h-1zM13 108h1v1h-1zM20 108h1v1h-1zM11 110h1v1h-1zM15 110h1v1h-1zM18 110h1v1h-1zM13 112h1v1h-1zM20 112h1v1h-1zM13 115h1v1h-1zM20 115h1v1h-1zM11 117h1v1h-1zM15 117h1v1h-1zM18 117h1v1h-1z"/><path fill="#ef786b" d="M125 15h1v1h-1zM132 15h1v1h-1zM139 15h1v1h-1zM124 16h1v1h-1zM129 16h1v1h-1zM138 16h1v1h-1zM117 17h1v1h-1zM132 22h1v1h-1zM133 25h1v1h-1zM122 27h1v1h-1zM125 28h1v1h-1zM131 28h1v1h-1zM104 30h1v1h-1zM115 32h1v1h-1zM108 33h1v1h-1zM112 33h1v1h-1zM115 33h1v1h-1zM85 40h1v1h-1zM87 40h1v1h-1zM64 47h1v1h-1z"/><path fill="#f2806c" d="M126 17h1v1h-1zM119 19h1v1h-1zM133 20h1v1h-1zM122 23h1v1h-1zM119 26h1v1h-1zM133 26h1v1h-1zM103 29h1v1h-1zM109 31h1v1h-1zM111 31h1v1h-1zM117 31h1v1h-1zM105 33h1v1h-1zM67 47h1v1h-1z"/><path fill="#f6896c" d="M124 15h1v1h-1zM132 17h1v1h-1zM122 18h1v1h-1zM133 19h1v1h-1zM122 22h1v1h-1zM104 28h1v1h-1zM124 28h1v1h-1zM103 30h1v1h-1zM102 31h1v1h-1zM108 32h1v1h-1zM112 32h1v1h-1zM87 47h1v1h-1z"/><path fill="#f9926c" d="M130 5h1v1h-1zM132 5h1v1h-1zM137 5h1v1h-1zM139 5h1v1h-1zM144 5h1v1h-1zM146 5h1v1h-1zM151 5h1v1h-1zM153 5h1v1h-1zM158 5h1v1h-1zM160 5h1v1h-1zM130 7h1v1h-1zM132 7h1v1h-1zM144 7h1v1h-1zM146 7h1v1h-1zM151 7h1v1h-1zM153 7h1v1h-1zM158 7h1v1h-1zM160 7h1v1h-1zM109 12h1v1h-1zM111 12h1v1h-1zM116 12h1v1h-1zM144 12h1v1h-1zM146 12h1v1h-1zM151 12h1v1h-1zM153 12h1v1h-1zM158 12h1v1h-1zM160 12h1v1h-1zM130 15h1v1h-1zM131 16h1v1h-1zM123 17h1v1h-1zM129 17h1v1h-1zM138 17h1v1h-1zM104 18h1v1h-1zM127 18h2v1h-2zM165 18h1v1h-1zM167 18h1v1h-1zM104 20h1v1h-1zM144 20h1v1h-1zM146 20h1v1h-1zM160 20h1v1h-1zM165 20h1v1h-1zM167 20h1v1h-1zM122 24h1v1h-1zM132 24h1v1h-1zM95 27h1v1h-1zM97 27h1v1h-1zM129 27h1v1h-1zM110 31h1v1h-1zM42 32h1v1h-1zM63 32h1v1h-1zM75 32h1v1h-1zM77 32h1v1h-1zM90 32h1v1h-1zM105 32h1v1h-1zM35 34h1v1h-1zM40 34h1v1h-1zM42 34h1v1h-1zM61 34h1v1h-1zM63 34h1v1h-1zM68 34h1v1h-1zM70 34h1v1h-1zM77 34h1v1h-1zM88 34h1v1h-1zM95 34h1v1h-1zM19 39h1v1h-1zM21 39h1v1h-1zM33 39h1v1h-1zM35 39h1v1h-1zM102 39h1v1h-1zM19 41h1v1h-1zM21 41h1v1h-1zM102 41h1v1h-1zM104 41h1v1h-1zM26 46h1v1h-1zM28 46h1v1h-1zM40 46h1v1h-1zM102 46h1v1h-1zM71 47h1v1h-1zM74 47h1v1h-1zM78 47h1v1h-1zM81 47h1v1h-1zM85 47h1v1h-1zM28 48h1v1h-1zM40 48h1v1h-1zM42 48h1v1h-1zM102 48h1v1h-1zM33 53h1v1h-1zM35 53h1v1h-1zM40 53h1v1h-1zM56 53h1v1h-1zM61 53h1v1h-1zM68 53h1v1h-1zM70 53h1v1h-1zM95 53h1v1h-1zM104 53h1v1h-1zM33 55h1v1h-1zM40 55h1v1h-1zM42 55h1v1h-1zM54 55h1v1h-1zM61 55h1v1h-1zM84 55h1v1h-1zM95 55h1v1h-1zM97 55h1v1h-1zM104 55h1v1h-1zM33 60h1v1h-1zM40 60h1v1h-1zM42 60h1v1h-1zM54 60h1v1h-1zM70 60h1v1h-1zM54 62h1v1h-1zM68 62h1v1h-1zM70 62h1v1h-1zM28 67h1v1h-1zM35 67h1v1h-1zM54 67h1v1h-1zM63 67h1v1h-1zM26 69h1v1h-1zM33 69h1v1h-1zM47 69h1v1h-1zM49 69h1v1h-1zM61 69h1v1h-1zM63 69h1v1h-1zM47 74h1v1h-1zM47 76h1v1h-1zM42 81h1v1h-1zM42 83h1v1h-1zM19 95h1v1h-1zM28 97h1v1h-1zM12 104h1v1h-1zM7 111h1v1h-1zM5 118h1v1h-1zM21 118h1v1h-1zM7 123h1v1h-1zM5 125h1v1h-1zM7 125h1v1h-1z"/><path fill="#fc9a6d" d="M137 7h1v1h-1zM139 7h1v1h-1zM118 12h1v1h-1zM123 12h1v1h-1zM125 12h1v1h-1zM130 12h1v1h-1zM132 12h1v1h-1zM137 12h1v1h-1zM109 14h1v1h-1zM111 14h1v1h-1zM116 14h1v1h-1zM118 14h1v1h-1zM144 14h1v1h-1zM146 14h1v1h-1zM151 14h1v1h-1zM153 14h1v1h-1zM158 14h1v1h-1zM160 14h1v1h-1zM131 15h1v1h-1zM138 15h1v1h-1zM130 16h1v1h-1zM125 17h1v1h-1zM109 18h1v1h-1zM111 18h1v1h-1zM116 18h1v1h-1zM151 18h1v1h-1zM153 18h1v1h-1zM158 18h1v1h-1zM160 18h1v1h-1zM109 20h1v1h-1zM111 20h1v1h-1zM116 20h1v1h-1zM139 20h1v1h-1zM122 21h1v1h-1zM132 21h1v1h-1zM131 23h1v1h-1zM109 25h1v1h-1zM111 25h1v1h-1zM116 25h1v1h-1zM122 25h1v1h-1zM137 25h1v1h-1zM139 25h1v1h-1zM122 26h1v1h-1zM128 26h1v1h-1zM109 27h1v1h-1zM111 27h1v1h-1zM116 27h1v1h-1zM126 27h1v1h-1zM137 27h1v1h-1zM139 27h1v1h-1zM103 28h1v1h-1zM95 32h1v1h-1zM97 32h1v1h-1zM75 34h1v1h-1zM90 34h1v1h-1zM116 34h1v1h-1zM118 34h1v1h-1zM40 39h1v1h-1zM42 39h1v1h-1zM47 39h1v1h-1zM49 39h1v1h-1zM54 39h1v1h-1zM56 39h1v1h-1zM61 39h1v1h-1zM63 39h1v1h-1zM68 39h1v1h-1zM70 39h1v1h-1zM75 39h1v1h-1zM77 39h1v1h-1zM82 39h1v1h-1zM84 39h1v1h-1zM88 39h1v1h-1zM90 39h1v1h-1zM33 41h1v1h-1zM35 41h1v1h-1zM40 41h1v1h-1zM42 41h1v1h-1zM47 41h1v1h-1zM49 41h1v1h-1zM54 41h1v1h-1zM56 41h1v1h-1zM61 41h1v1h-1zM63 41h1v1h-1zM68 41h1v1h-1zM70 41h1v1h-1zM75 41h1v1h-1zM77 41h1v1h-1zM82 41h1v1h-1zM84 41h1v1h-1zM88 41h1v1h-1zM90 41h1v1h-1zM33 46h1v1h-1zM35 46h1v1h-1zM42 46h1v1h-1zM47 46h1v1h-1zM49 46h1v1h-1zM54 46h1v1h-1zM56 46h1v1h-1zM61 46h1v1h-1zM63 46h1v1h-1zM90 46h1v1h-1zM95 46h1v1h-1zM97 46h1v1h-1zM33 48h1v1h-1zM35 48h1v1h-1zM47 48h1v1h-1zM49 48h1v1h-1zM54 48h1v1h-1zM56 48h1v1h-1zM61 48h1v1h-1zM90 48h1v1h-1zM95 48h1v1h-1zM97 48h1v1h-1zM54 53h1v1h-1zM63 53h1v1h-1zM75 53h1v1h-1zM77 53h1v1h-1zM82 53h1v1h-1zM84 53h1v1h-1zM97 53h1v1h-1zM102 53h1v1h-1zM63 55h1v1h-1zM68 55h1v1h-1zM70 55h1v1h-1zM75 55h1v1h-1zM77 55h1v1h-1zM82 55h1v1h-1zM102 55h1v1h-1zM47 60h1v1h-1zM49 60h1v1h-1zM56 60h1v1h-1zM61 60h1v1h-1zM63 60h1v1h-1zM68 60h1v1h-1zM33 62h1v1h-1zM35 62h1v1h-1zM40 62h1v1h-1zM42 62h1v1h-1zM47 62h1v1h-1zM49 62h1v1h-1zM56 62h1v1h-1zM61 62h1v1h-1zM63 62h1v1h-1zM33 67h1v1h-1zM40 67h1v1h-1zM42 67h1v1h-1zM47 67h1v1h-1zM49 67h1v1h-1zM56 67h1v1h-1zM61 67h1v1h-1zM28 69h1v1h-1zM40 69h1v1h-1zM42 69h1v1h-1zM54 69h1v1h-1zM56 69h1v1h-1zM28 74h1v1h-1zM33 74h1v1h-1zM35 74h1v1h-1zM40 74h1v1h-1zM42 74h1v1h-1zM28 76h1v1h-1zM33 76h1v1h-1zM35 76h1v1h-1zM40 76h1v1h-1zM42 76h1v1h-1zM26 81h1v1h-1zM28 81h1v1h-1zM33 81h1v1h-1zM35 81h1v1h-1zM40 81h1v1h-1zM26 83h1v1h-1zM28 83h1v1h-1zM33 83h1v1h-1zM35 83h1v1h-1zM26 88h1v1h-1zM28 88h1v1h-1zM26 90h1v1h-1zM28 90h1v1h-1zM21 95h1v1h-1zM26 95h1v1h-1zM28 95h1v1h-1zM19 97h1v1h-1zM21 97h1v1h-1zM26 97h1v1h-1zM14 102h1v1h-1zM19 102h1v1h-1zM21 102h1v1h-1zM14 104h1v1h-1zM19 104h1v1h-1zM21 104h1v1h-1zM12 109h1v1h-1zM14 109h1v1h-1zM19 109h1v1h-1zM21 109h1v1h-1zM12 111h1v1h-1zM14 111h1v1h-1zM19 111h1v1h-1zM21 111h1v1h-1zM7 116h1v1h-1zM12 116h1v1h-1zM14 116h1v1h-1zM19 116h1v1h-1zM21 116h1v1h-1zM7 118h1v1h-1zM12 118h1v1h-1zM14 118h1v1h-1zM19 118h1v1h-1zM5 123h1v1h-1z"/><path fill="#fea370" d="M131 5h1v1h-1zM138 5h1v1h-1zM145 5h1v1h-1zM152 5h1v1h-1zM159 5h1v1h-1zM130 6h1v1h-1zM132 6h1v1h-1zM139 6h1v1h-1zM144 6h1v1h-1zM146 6h1v1h-1zM151 6h1v1h-1zM153 6h1v1h-1zM158 6h1v1h-1zM160 6h1v1h-1zM131 7h1v1h-1zM145 7h1v1h-1zM152 7h1v1h-1zM159 7h1v1h-1zM110 12h1v1h-1zM117 12h1v1h-1zM139 12h1v1h-1zM145 12h1v1h-1zM152 12h1v1h-1zM159 12h1v1h-1zM109 13h1v1h-1zM111 13h1v1h-1zM116 13h1v1h-1zM144 13h1v1h-1zM146 13h1v1h-1zM151 13h1v1h-1zM153 13h1v1h-1zM158 13h1v1h-1zM160 13h1v1h-1zM123 14h1v1h-1zM125 14h1v1h-1zM132 14h1v1h-1zM137 14h1v1h-1zM118 18h1v1h-1zM137 18h1v1h-1zM166 18h1v1h-1zM104 19h1v1h-1zM144 19h1v1h-1zM146 19h1v1h-1zM151 19h1v1h-1zM153 19h1v1h-1zM158 19h1v1h-1zM160 19h1v1h-1zM165 19h1v1h-1zM167 19h1v1h-1zM103 20h1v1h-1zM137 20h1v1h-1zM145 20h1v1h-1zM159 20h1v1h-1zM166 20h1v1h-1zM131 22h1v1h-1zM104 25h1v1h-1zM118 25h1v1h-1zM95 26h1v1h-1zM97 26h1v1h-1zM127 26h1v1h-1zM96 27h1v1h-1zM118 27h1v1h-1zM62 32h1v1h-1zM76 32h1v1h-1zM89 32h1v1h-1zM118 32h1v1h-1zM40 33h1v1h-1zM42 33h1v1h-1zM61 33h1v1h-1zM63 33h1v1h-1zM68 33h1v1h-1zM70 33h1v1h-1zM77 33h1v1h-1zM88 33h1v1h-1zM90 33h1v1h-1zM34 34h1v1h-1zM41 34h1v1h-1zM62 34h1v1h-1zM69 34h1v1h-1zM76 34h1v1h-1zM89 34h1v1h-1zM96 34h1v1h-1zM102 34h1v1h-1zM104 34h1v1h-1zM20 39h1v1h-1zM34 39h1v1h-1zM48 39h1v1h-1zM55 39h1v1h-1zM103 39h1v1h-1zM19 40h1v1h-1zM21 40h1v1h-1zM33 40h1v1h-1zM35 40h1v1h-1zM90 40h1v1h-1zM102 40h1v1h-1zM104 40h1v1h-1zM20 41h1v1h-1zM103 41h1v1h-1zM27 46h1v1h-1zM41 46h1v1h-1zM68 46h1v1h-1zM70 46h1v1h-1zM75 46h1v1h-1zM77 46h1v1h-1zM82 46h1v1h-1zM84 46h1v1h-1zM88 46h1v1h-1zM26 47h1v1h-1zM28 47h1v1h-1zM40 47h1v1h-1zM42 47h1v1h-1zM102 47h1v1h-1zM27 48h1v1h-1zM41 48h1v1h-1zM48 48h1v1h-1zM63 48h1v1h-1zM68 48h1v1h-1zM70 48h1v1h-1zM82 48h1v1h-1zM84 48h1v1h-1zM88 48h1v1h-1zM103 48h1v1h-1zM34 53h1v1h-1zM41 53h1v1h-1zM55 53h1v1h-1zM69 53h1v1h-1zM103 53h1v1h-1zM33 54h1v1h-1zM35 54h1v1h-1zM40 54h1v1h-1zM42 54h1v1h-1zM54 54h1v1h-1zM56 54h1v1h-1zM61 54h1v1h-1zM68 54h1v1h-1zM84 54h1v1h-1zM95 54h1v1h-1zM104 54h1v1h-1zM34 55h1v1h-1zM41 55h1v1h-1zM55 55h1v1h-1zM62 55h1v1h-1zM76 55h1v1h-1zM83 55h1v1h-1zM96 55h1v1h-1zM103 55h1v1h-1zM41 60h1v1h-1zM48 60h1v1h-1zM33 61h1v1h-1zM35 61h1v1h-1zM40 61h1v1h-1zM54 61h1v1h-1zM70 61h1v1h-1zM55 62h1v1h-1zM69 62h1v1h-1zM27 67h1v1h-1zM26 68h1v1h-1zM35 68h1v1h-1zM49 68h1v1h-1zM63 68h1v1h-1zM27 69h1v1h-1zM55 69h1v1h-1zM62 69h1v1h-1zM27 74h1v1h-1zM47 75h1v1h-1zM27 76h1v1h-1zM48 76h1v1h-1zM26 82h1v1h-1zM40 82h1v1h-1zM42 82h1v1h-1zM34 83h1v1h-1zM26 89h1v1h-1zM28 89h1v1h-1zM20 95h1v1h-1zM19 96h1v1h-1zM28 96h1v1h-1zM27 97h1v1h-1zM13 102h1v1h-1zM12 103h1v1h-1zM21 103h1v1h-1zM7 110h1v1h-1zM21 110h1v1h-1zM6 111h1v1h-1zM6 116h1v1h-1zM5 117h1v1h-1zM21 117h1v1h-1zM13 118h1v1h-1zM20 118h1v1h-1zM5 124h1v1h-1zM7 124h1v1h-1zM6 125h1v1h-1z"/><path fill="#ffad79" d="M137 6h1v1h-1zM138 7h1v1h-1zM124 12h1v1h-1zM131 12h1v1h-1zM118 13h1v1h-1zM123 13h1v1h-1zM125 13h1v1h-1zM130 13h1v1h-1zM132 13h1v1h-1zM110 14h1v1h-1zM117 14h1v1h-1zM130 14h1v1h-1zM139 14h1v1h-1zM145 14h1v1h-1zM152 14h1v1h-1zM159 14h1v1h-1zM124 17h1v1h-1zM130 17h1v1h-1zM110 18h1v1h-1zM129 18h1v1h-1zM139 18h1v1h-1zM152 18h1v1h-1zM159 18h1v1h-1zM109 19h1v1h-1zM111 19h1v1h-1zM116 19h1v1h-1zM122 19h1v1h-1zM110 20h1v1h-1zM118 20h1v1h-1zM122 20h1v1h-1zM138 20h1v1h-1zM110 25h1v1h-1zM117 25h1v1h-1zM138 25h1v1h-1zM109 26h1v1h-1zM111 26h1v1h-1zM116 26h1v1h-1zM137 26h1v1h-1zM139 26h1v1h-1zM110 27h1v1h-1zM117 27h1v1h-1zM132 27h1v1h-1zM138 27h1v1h-1zM104 31h1v1h-1zM96 32h1v1h-1zM116 32h1v1h-1zM75 33h1v1h-1zM95 33h1v1h-1zM97 33h1v1h-1zM116 33h1v1h-1zM118 33h1v1h-1zM117 34h1v1h-1zM41 39h1v1h-1zM62 39h1v1h-1zM69 39h1v1h-1zM76 39h1v1h-1zM83 39h1v1h-1zM89 39h1v1h-1zM40 40h1v1h-1zM42 40h1v1h-1zM47 40h1v1h-1zM49 40h1v1h-1zM54 40h1v1h-1zM56 40h1v1h-1zM61 40h1v1h-1zM63 40h1v1h-1zM68 40h1v1h-1zM70 40h1v1h-1zM75 40h1v1h-1zM77 40h1v1h-1zM82 40h1v1h-1zM84 40h1v1h-1zM88 40h1v1h-1zM34 41h1v1h-1zM41 41h1v1h-1zM48 41h1v1h-1zM55 41h1v1h-1zM62 41h1v1h-1zM69 41h1v1h-1zM76 41h1v1h-1zM83 41h1v1h-1zM89 41h1v1h-1zM34 46h1v1h-1zM48 46h1v1h-1zM55 46h1v1h-1zM62 46h1v1h-1zM69 46h1v1h-1zM83 46h1v1h-1zM89 46h1v1h-1zM96 46h1v1h-1zM33 47h1v1h-1zM35 47h1v1h-1zM47 47h1v1h-1zM49 47h1v1h-1zM54 47h1v1h-1zM56 47h1v1h-1zM95 47h1v1h-1zM97 47h1v1h-1zM34 48h1v1h-1zM55 48h1v1h-1zM62 48h1v1h-1zM75 48h1v1h-1zM77 48h1v1h-1zM89 48h1v1h-1zM96 48h1v1h-1zM62 53h1v1h-1zM76 53h1v1h-1zM83 53h1v1h-1zM96 53h1v1h-1zM63 54h1v1h-1zM70 54h1v1h-1zM75 54h1v1h-1zM77 54h1v1h-1zM82 54h1v1h-1zM97 54h1v1h-1zM102 54h1v1h-1zM69 55h1v1h-1zM55 60h1v1h-1zM62 60h1v1h-1zM69 60h1v1h-1zM42 61h1v1h-1zM47 61h1v1h-1zM49 61h1v1h-1zM56 61h1v1h-1zM61 61h1v1h-1zM63 61h1v1h-1zM68 61h1v1h-1zM34 62h1v1h-1zM41 62h1v1h-1zM48 62h1v1h-1zM62 62h1v1h-1zM34 67h1v1h-1zM41 67h1v1h-1zM48 67h1v1h-1zM55 67h1v1h-1zM62 67h1v1h-1zM28 68h1v1h-1zM33 68h1v1h-1zM40 68h1v1h-1zM42 68h1v1h-1zM47 68h1v1h-1zM54 68h1v1h-1zM56 68h1v1h-1zM61 68h1v1h-1zM41 69h1v1h-1zM34 74h1v1h-1zM41 74h1v1h-1zM28 75h1v1h-1zM33 75h1v1h-1zM35 75h1v1h-1zM40 75h1v1h-1zM42 75h1v1h-1zM34 76h1v1h-1zM41 76h1v1h-1zM27 81h1v1h-1zM34 81h1v1h-1zM41 81h1v1h-1zM28 82h1v1h-1zM33 82h1v1h-1zM35 82h1v1h-1zM27 83h1v1h-1zM27 88h1v1h-1zM27 90h1v1h-1zM27 95h1v1h-1zM21 96h1v1h-1zM26 96h1v1h-1zM20 97h1v1h-1zM20 102h1v1h-1zM14 103h1v1h-1zM19 103h1v1h-1zM13 104h1v1h-1zM20 104h1v1h-1zM13 109h1v1h-1zM20 109h1v1h-1zM12 110h1v1h-1zM14 110h1v1h-1zM19 110h1v1h-1zM13 111h1v1h-1zM20 111h1v1h-1zM13 116h1v1h-1zM20 116h1v1h-1zM7 117h1v1h-1zM12 117h1v1h-1zM14 117h1v1h-1zM19 117h1v1h-1zM6 118h1v1h-1zM6 123h1v1h-1z"/><path fill="#ffb781" d="M138 12h1v1h-1zM137 13h1v1h-1zM139 13h1v1h-1zM124 14h1v1h-1zM131 14h1v1h-1zM131 17h1v1h-1zM117 18h1v1h-1zM126 18h1v1h-1zM118 19h1v1h-1zM128 19h1v1h-1zM137 19h1v1h-1zM139 19h1v1h-1zM117 20h1v1h-1zM123 23h1v1h-1zM104 26h1v1h-1zM118 26h1v1h-1zM129 26h1v1h-1zM104 27h1v1h-1zM130 27h1v1h-1zM117 32h1v1h-1zM102 33h1v1h-1zM109 33h1v1h-1zM111 33h1v1h-1zM103 34h1v1h-1zM76 46h1v1h-1zM61 47h1v1h-1zM63 47h1v1h-1zM88 47h1v1h-1zM90 47h1v1h-1zM69 48h1v1h-1zM76 48h1v1h-1zM83 48h1v1h-1z"/><path fill="#ffc28a" d="M132 18h1v1h-1zM138 18h1v1h-1zM127 19h1v1h-1zM131 21h1v1h-1zM123 22h1v1h-1zM130 22h1v1h-1zM130 23h1v1h-1zM123 24h1v1h-1zM131 24h1v1h-1zM128 25h1v1h-1zM132 25h1v1h-1zM132 26h1v1h-1zM103 27h1v1h-1zM123 27h1v1h-1zM131 27h1v1h-1zM103 31h1v1h-1zM102 32h1v1h-1zM109 32h1v1h-1zM111 32h1v1h-1zM68 47h1v1h-1zM70 47h1v1h-1zM82 47h1v1h-1zM84 47h1v1h-1z"/><path fill="#ffcc92" d="M138 14h1v1h-1zM123 18h1v1h-1zM129 19h1v1h-1zM132 19h1v1h-1zM132 20h1v1h-1zM130 24h1v1h-1zM127 25h1v1h-1zM129 25h1v1h-1zM126 26h1v1h-1zM124 27h2v1h-2zM104 33h1v1h-1zM75 47h1v1h-1zM77 47h1v1h-1z"/><path fill="#ffd59b" d="M130 18h2v1h-2zM128 20h2v1h-2zM123 21h1v1h-1zM130 21h1v1h-1zM129 23h1v1h-1zM129 24h1v1h-1zM123 25h1v1h-1zM131 25h1v1h-1zM123 26h1v1h-1zM130 26h1v1h-1zM104 32h1v1h-1zM110 32h1v1h-1z"/><path fill="#ffdfa4" d="M124 18h2v1h-2zM123 19h1v1h-1zM126 19h1v1h-1zM130 19h1v1h-1zM127 20h1v1h-1zM131 20h1v1h-1zM129 21h1v1h-1zM124 22h1v1h-1zM129 22h1v1h-1zM124 23h1v1h-1zM124 24h1v1h-1zM128 24h1v1h-1zM126 25h1v1h-1zM130 25h1v1h-1zM103 32h1v1h-1z"/><path fill="#ffe9ad" d="M123 20h1v1h-1zM130 20h1v1h-1zM128 21h1v1h-1zM128 23h1v1h-1zM125 24h3v1h-3zM124 25h1v1h-1zM125 26h1v1h-1z"/><path fill="#fef3b6" d="M131 6h1v1h-1zM138 6h1v1h-1zM145 6h1v1h-1zM152 6h1v1h-1zM159 6h1v1h-1zM110 13h1v1h-1zM117 13h1v1h-1zM124 13h1v1h-1zM131 13h1v1h-1zM145 13h1v1h-1zM152 13h1v1h-1zM159 13h1v1h-1zM103 19h1v1h-1zM110 19h1v1h-1zM117 19h1v1h-1zM125 19h1v1h-1zM138 19h1v1h-1zM145 19h1v1h-1zM152 19h1v1h-1zM159 19h1v1h-1zM166 19h1v1h-1zM124 20h1v1h-1zM126 20h1v1h-1zM124 21h2v1h-2zM127 21h1v1h-1zM125 22h1v1h-1zM128 22h1v1h-1zM125 23h3v1h-3zM125 25h1v1h-1zM96 26h1v1h-1zM110 26h1v1h-1zM117 26h1v1h-1zM138 26h1v1h-1zM34 33h1v1h-1zM41 33h1v1h-1zM62 33h1v1h-1zM69 33h1v1h-1zM76 33h1v1h-1zM89 33h1v1h-1zM96 33h1v1h-1zM117 33h1v1h-1zM20 40h1v1h-1zM34 40h1v1h-1zM41 40h1v1h-1zM48 40h1v1h-1zM55 40h1v1h-1zM62 40h1v1h-1zM69 40h1v1h-1zM76 40h1v1h-1zM83 40h1v1h-1zM89 40h1v1h-1zM103 40h1v1h-1zM27 47h1v1h-1zM34 47h1v1h-1zM41 47h1v1h-1zM48 47h1v1h-1zM55 47h1v1h-1zM62 47h1v1h-1zM89 47h1v1h-1zM96 47h1v1h-1zM103 47h1v1h-1zM34 54h1v1h-1zM41 54h1v1h-1zM55 54h1v1h-1zM62 54h1v1h-1zM69 54h1v1h-1zM76 54h1v1h-1zM83 54h1v1h-1zM96 54h1v1h-1zM103 54h1v1h-1zM34 61h1v1h-1zM41 61h1v1h-1zM48 61h1v1h-1zM55 61h1v1h-1zM62 61h1v1h-1zM69 61h1v1h-1zM27 68h1v1h-1zM34 68h1v1h-1zM41 68h1v1h-1zM48 68h1v1h-1zM55 68h1v1h-1zM62 68h1v1h-1zM27 75h1v1h-1zM34 75h1v1h-1zM41 75h1v1h-1zM48 75h1v1h-1zM27 82h1v1h-1zM34 82h1v1h-1zM41 82h1v1h-1zM27 89h1v1h-1zM20 96h1v1h-1zM27 96h1v1h-1zM13 103h1v1h-1zM20 103h1v1h-1zM6 110h1v1h-1zM13 110h1v1h-1zM20 110h1v1h-1zM6 117h1v1h-1zM13 117h1v1h-1zM20 117h1v1h-1zM6 124h1v1h-1z"/><path fill="#fcfdbf" d="M138 13h1v1h-1zM124 19h1v1h-1zM131 19h1v1h-1zM125 20h1v1h-1zM126 21h1v1h-1zM126 22h2v1h-2zM103 26h1v1h-1zM124 26h1v1h-1zM131 26h1v1h-1zM103 33h1v1h-1zM110 33h1v1h-1zM69 47h1v1h-1zM76 47h1v1h-1zM83 47h1v1h-1z"/></g>

<g fill="none" stroke="#00ff00" stroke-width="1.9"><circle cx="1041.6" cy="200.1" r="6.5"/><circle cx="1085.7" cy="200.1" r="6.5"/><circle cx="1129.7" cy="200.1" r="6.5"/><circle cx="1173.7" cy="200.1" r="6.5"/><circle cx="1217.8" cy="200.1" r="6.5"/><circle cx="909.5" cy="244.1" r="6.5"/><circle cx="953.5" cy="244.1" r="6.5"/><circle cx="997.6" cy="244.1" r="6.5"/><circle cx="1041.6" cy="244.1" r="6.5"/><circle cx="1085.7" cy="244.1" r="6.5"/><circle cx="1129.7" cy="244.1" r="6.5"/><circle cx="1173.7" cy="244.1" r="6.5"/><circle cx="1217.8" cy="244.1" r="6.5"/><circle cx="865.5" cy="288.2" r="6.5"/><circle cx="909.5" cy="288.2" r="6.5"/><circle cx="953.5" cy="288.2" r="6.5"/><circle cx="997.6" cy="288.2" r="6.5"/><circle cx="1041.6" cy="288.2" r="6.5"/><circle cx="1085.7" cy="288.2" r="6.5"/><circle cx="1129.7" cy="288.2" r="6.5"/><circle cx="1173.7" cy="288.2" r="6.5"/><circle cx="1217.8" cy="288.2" r="6.5"/><circle cx="1261.8" cy="288.2" r="6.5"/><circle cx="821.4" cy="332.2" r="6.5"/><circle cx="865.5" cy="332.2" r="6.5"/><circle cx="909.5" cy="332.2" r="6.5"/><circle cx="953.5" cy="332.2" r="6.5"/><circle cx="997.6" cy="332.2" r="6.5"/><circle cx="1041.6" cy="332.2" r="6.5"/><circle cx="1085.7" cy="332.2" r="6.5"/><circle cx="425.1" cy="376.3" r="6.5"/><circle cx="469.1" cy="376.3" r="6.5"/><circle cx="601.2" cy="376.3" r="6.5"/><circle cx="645.3" cy="376.3" r="6.5"/><circle cx="689.3" cy="376.3" r="6.5"/><circle cx="777.4" cy="376.3" r="6.5"/><circle cx="821.4" cy="376.3" r="6.5"/><circle cx="865.5" cy="376.3" r="6.5"/><circle cx="909.5" cy="376.3" r="6.5"/><circle cx="953.5" cy="376.3" r="6.5"/><circle cx="337.0" cy="420.3" r="6.5"/><circle cx="425.1" cy="420.3" r="6.5"/><circle cx="469.1" cy="420.3" r="6.5"/><circle cx="513.1" cy="420.3" r="6.5"/><circle cx="557.2" cy="420.3" r="6.5"/><circle cx="601.2" cy="420.3" r="6.5"/><circle cx="645.3" cy="420.3" r="6.5"/><circle cx="689.3" cy="420.3" r="6.5"/><circle cx="733.3" cy="420.3" r="6.5"/><circle cx="777.4" cy="420.3" r="6.5"/><circle cx="865.5" cy="420.3" r="6.5"/><circle cx="381.0" cy="464.3" r="6.5"/><circle cx="425.1" cy="464.3" r="6.5"/><circle cx="469.1" cy="464.3" r="6.5"/><circle cx="513.1" cy="464.3" r="6.5"/><circle cx="557.2" cy="464.3" r="6.5"/><circle cx="601.2" cy="464.3" r="6.5"/><circle cx="645.3" cy="464.3" r="6.5"/><circle cx="689.3" cy="464.3" r="6.5"/><circle cx="733.3" cy="464.3" r="6.5"/><circle cx="777.4" cy="464.3" r="6.5"/><circle cx="821.4" cy="464.3" r="6.5"/><circle cx="865.5" cy="464.3" r="6.5"/><circle cx="425.1" cy="508.4" r="6.5"/><circle cx="469.1" cy="508.4" r="6.5"/><circle cx="557.2" cy="508.4" r="6.5"/><circle cx="601.2" cy="508.4" r="6.5"/><circle cx="645.3" cy="508.4" r="6.5"/><circle cx="689.3" cy="508.4" r="6.5"/><circle cx="733.3" cy="508.4" r="6.5"/><circle cx="821.4" cy="508.4" r="6.5"/><circle cx="865.5" cy="508.4" r="6.5"/><circle cx="425.1" cy="552.4" r="6.5"/><circle cx="469.1" cy="552.4" r="6.5"/><circle cx="513.1" cy="552.4" r="6.5"/><circle cx="557.2" cy="552.4" r="6.5"/><circle cx="601.2" cy="552.4" r="6.5"/><circle cx="645.3" cy="552.4" r="6.5"/><circle cx="381.0" cy="596.5" r="6.5"/><circle cx="425.1" cy="596.5" r="6.5"/><circle cx="469.1" cy="596.5" r="6.5"/><circle cx="513.1" cy="596.5" r="6.5"/><circle cx="557.2" cy="596.5" r="6.5"/><circle cx="601.2" cy="596.5" r="6.5"/><circle cx="381.0" cy="640.5" r="6.5"/><circle cx="425.1" cy="640.5" r="6.5"/><circle cx="469.1" cy="640.5" r="6.5"/><circle cx="513.1" cy="640.5" r="6.5"/><circle cx="381.0" cy="684.5" r="6.5"/><circle cx="425.1" cy="684.5" r="6.5"/><circle cx="469.1" cy="684.5" r="6.5"/><circle cx="381.0" cy="728.6" r="6.5"/><circle cx="337.0" cy="772.6" r="6.5"/><circle cx="381.0" cy="772.6" r="6.5"/><circle cx="292.9" cy="816.7" r="6.5"/><circle cx="337.0" cy="816.7" r="6.5"/><circle cx="248.9" cy="860.7" r="6.5"/><circle cx="292.9" cy="860.7" r="6.5"/><circle cx="337.0" cy="860.7" r="6.5"/><circle cx="248.9" cy="904.7" r="6.5"/><circle cx="292.9" cy="904.7" r="6.5"/><circle cx="337.0" cy="904.7" r="6.5"/><circle cx="248.9" cy="948.8" r="6.5"/></g>
<g opacity="0.999"><text x="153.5" y="100" font-size="35.2" fill="#000">Single Detection Probability (103 stations)</text>
<g font-size="23.3" fill="#4d4d4d"><text x="140" y="166.4" text-anchor="end">4942000</text><text x="140" y="293.4" text-anchor="end">4940000</text><text x="140" y="420.4" text-anchor="end">4938000</text><text x="140" y="547.4" text-anchor="end">4936000</text><text x="140" y="674.4" text-anchor="end">4934000</text><text x="140" y="801.4" text-anchor="end">4932000</text><text x="140" y="928.4" text-anchor="end">4930000</text><text x="187.5" y="1038.8" text-anchor="middle">720000</text><text x="504.7" y="1038.8" text-anchor="middle">725000</text><text x="822.0" y="1038.8" text-anchor="middle">730000</text><text x="1139.2" y="1038.8" text-anchor="middle">735000</text></g>
<text x="739.4" y="1071" font-size="29.33" text-anchor="middle" fill="#000">x</text>
<text transform="translate(36.6 564.8) rotate(-90)" font-size="29.33" text-anchor="middle" fill="#000">y</text>
<text x="1370" y="453" font-size="29.33" fill="#000">Probability</text>
<rect x="1370.0" y="470.3" width="45.8" height="230.1" fill="url(#lg)"/>
<g stroke="#fff" stroke-width="1.4" fill="none"><path d="M1370.0 640.1h9.2M1415.8 640.1h-9.2"/><path d="M1370.0 579.8h9.2M1415.8 579.8h-9.2"/><path d="M1370.0 519.5h9.2M1415.8 519.5h-9.2"/></g>
<g font-size="23.47" fill="#000"><text x="1431" y="648.7">0.25</text><text x="1431" y="588.4">0.50</text><text x="1431" y="528.1">0.75</text></g></g>
</svg>
</body></html>
